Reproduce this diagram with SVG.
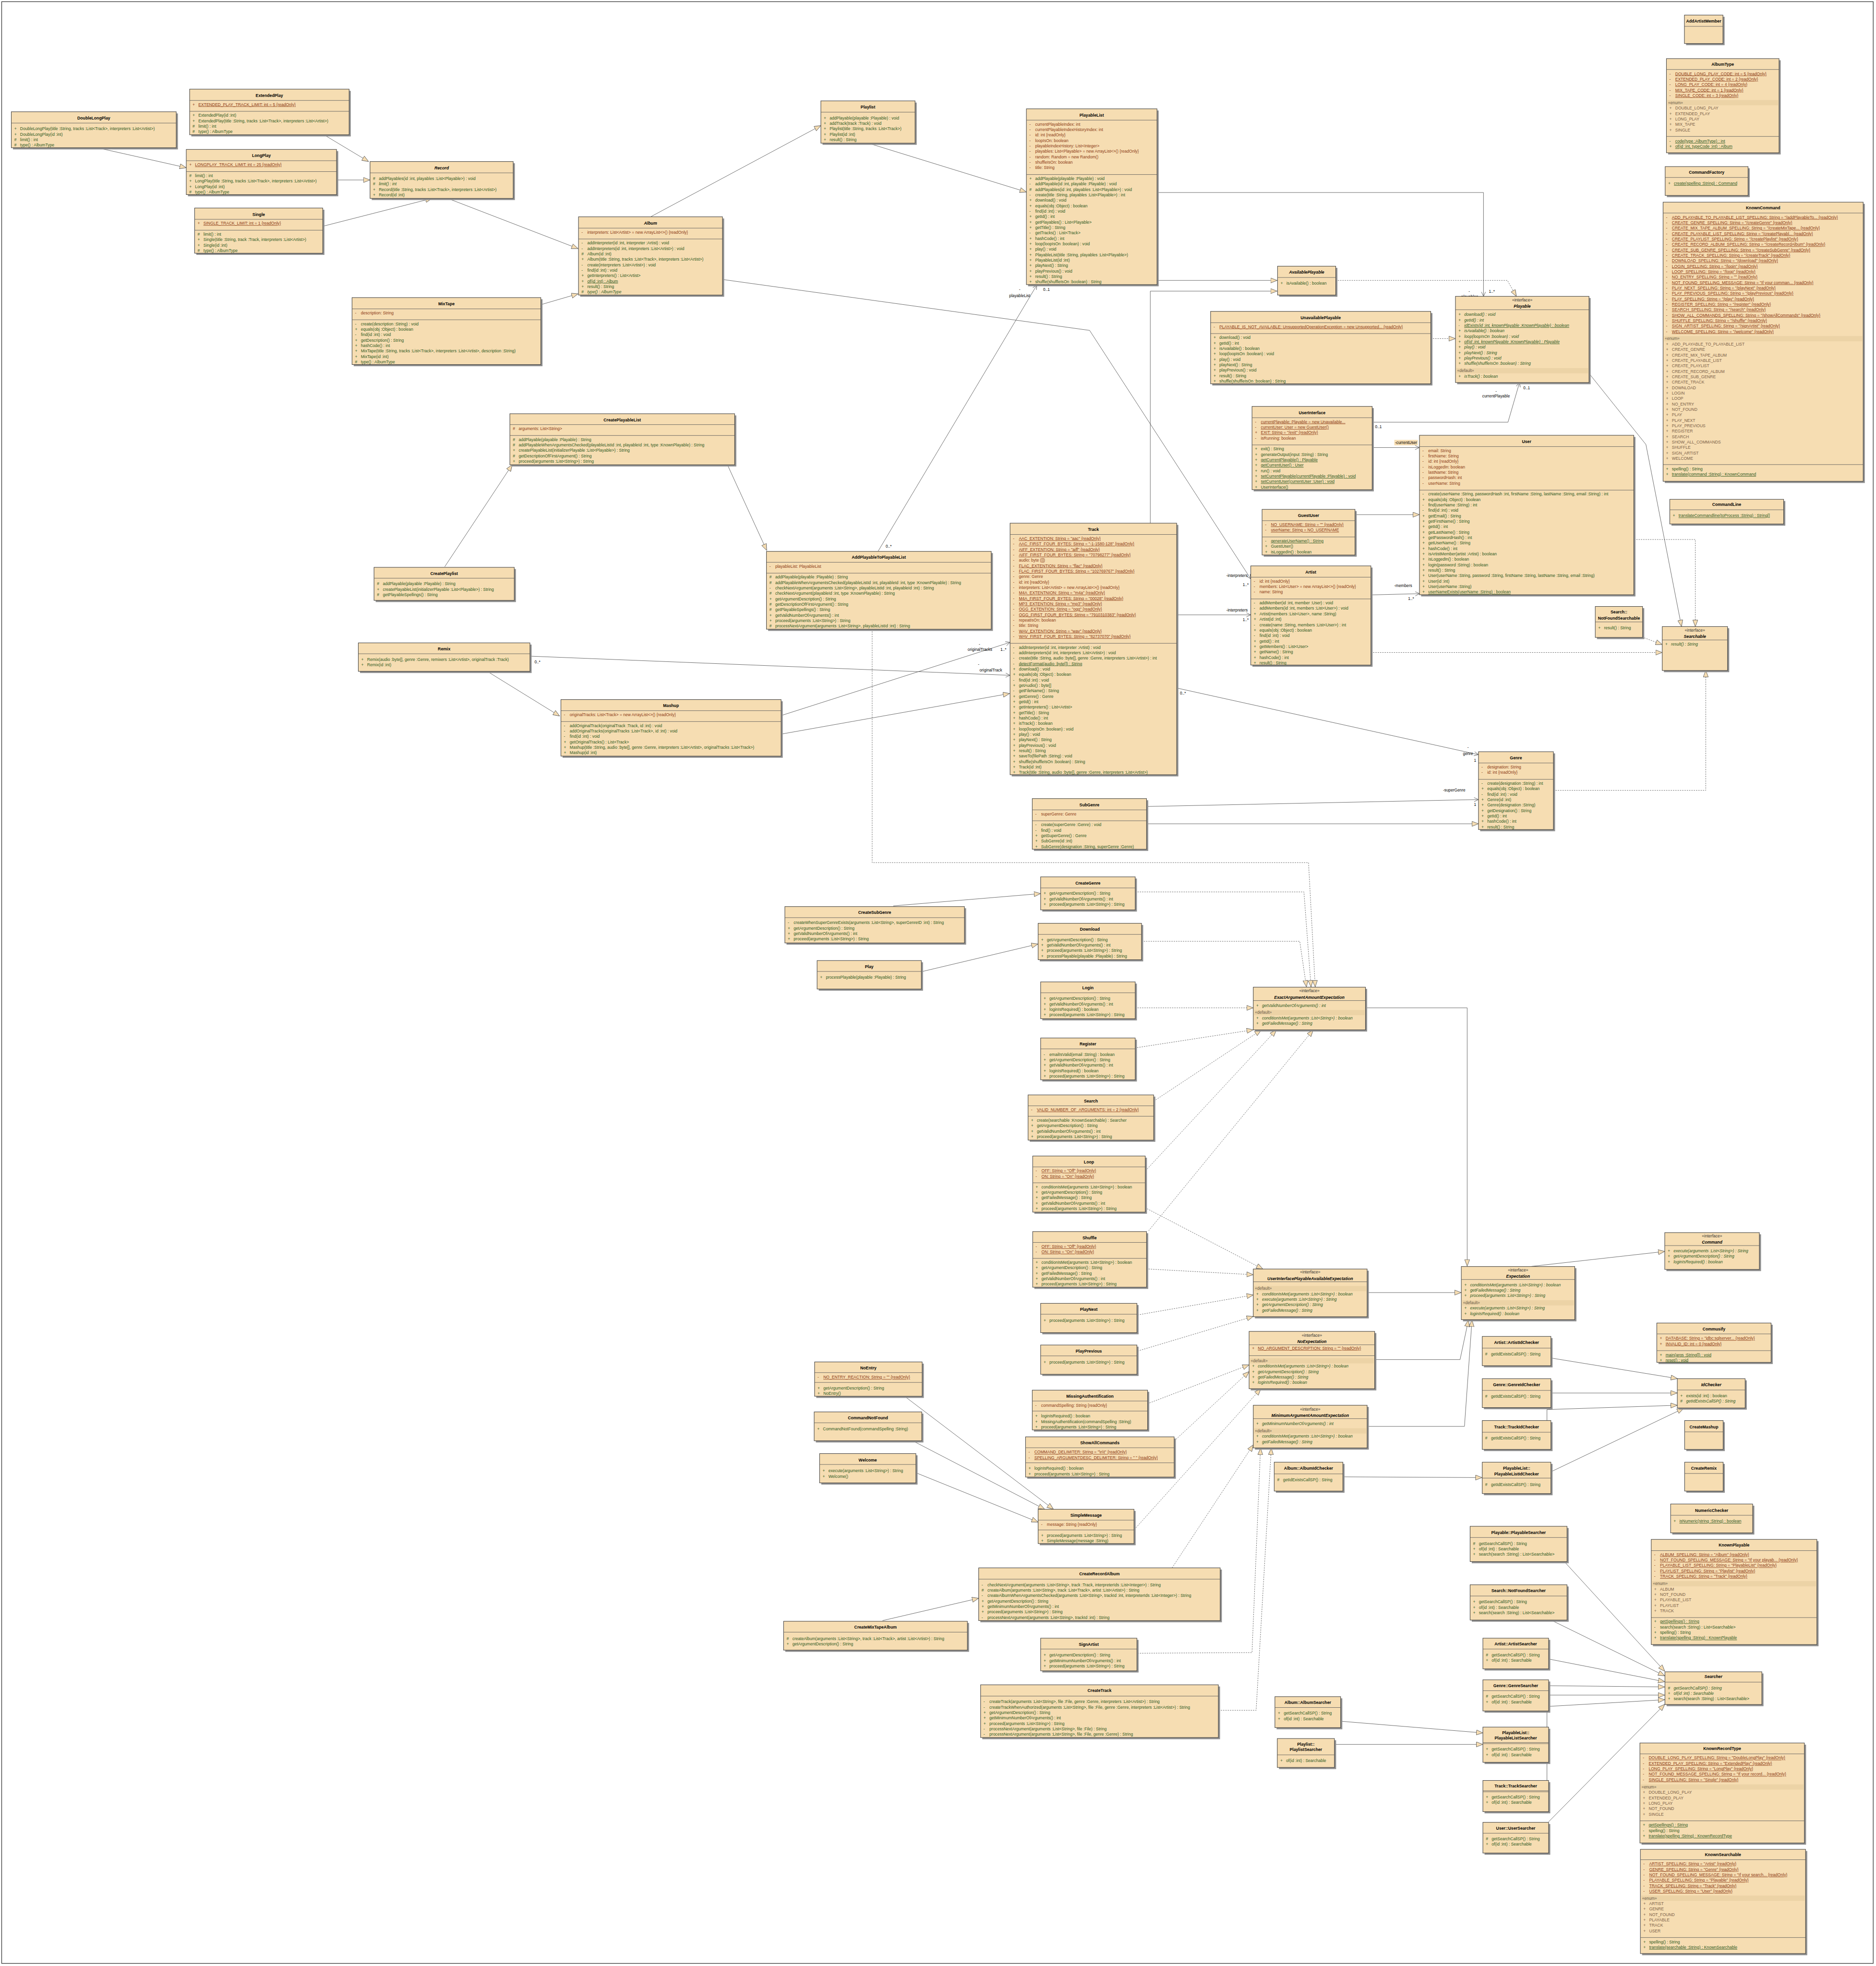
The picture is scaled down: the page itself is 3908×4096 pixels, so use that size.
<svg xmlns="http://www.w3.org/2000/svg" width="3908" height="4096" viewBox="0 0 3908 4096">
<style>
text{font-family:'Liberation Sans',Arial,sans-serif;font-size:9.8px}
.t{font-weight:bold;text-anchor:middle;fill:#000;font-size:10px}
.ti{font-weight:bold;font-style:italic;text-anchor:middle;fill:#000;font-size:10px}
.st{text-anchor:middle;fill:#333}
.a{fill:#8c3a14}
.m{fill:#2f5a1e}
.e{fill:#7a6048}
.dl{fill:#6a5a48}
.u{text-decoration:underline}
.i{font-style:italic}
.bx{fill:#F6DDB2;stroke:#3c3c3c;stroke-width:1.2}
.sh{fill:#8f8f8f}
.dv{stroke:#5a5a5a;stroke-width:1}
.bd{fill:#ECD3A6}
.cn{fill:none;stroke:#555;stroke-width:1}
.ds{stroke-dasharray:3 2.5}
.lb{fill:#000;font-size:9.5px;text-anchor:middle}
</style>
<defs>
<marker id="g" markerUnits="userSpaceOnUse" markerWidth="18" markerHeight="14" refX="16" refY="6.5" orient="auto"><path d="M0.5,0.5 L16,6.5 L0.5,12.5 Z" fill="#F6DDB2" stroke="#555"/></marker>
<marker id="o" markerUnits="userSpaceOnUse" markerWidth="14" markerHeight="12" refX="11" refY="5.5" orient="auto"><path d="M0.5,0.5 L11,5.5 L0.5,10.5" fill="none" stroke="#555"/></marker>
</defs>
<rect width="3908" height="4096" fill="#fff"/>
<g transform="scale(0.872)">
<rect x="4" y="4" width="4471" height="4687" fill="none" stroke="#333" stroke-width="1.5"/>
<g id="connectors">
<path class="cn" marker-end="url(#g)" d="M237,354 L445,400.7"/>
<path class="cn" marker-end="url(#g)" d="M773.5,321.7 L880.5,386"/>
<path class="cn" marker-end="url(#g)" d="M804,430 L884,430"/>
<path class="cn" marker-end="url(#g)" d="M771,540.7 L1032,474"/>
<path class="cn" marker-end="url(#g)" d="M1069.5,474 L1381,594"/>
<path class="cn" marker-end="url(#g)" d="M1291.8,728 L1381,702"/>
<path class="cn" marker-end="url(#g)" d="M1555,517.6 L1961,300"/>
<path class="cn" marker-end="url(#g)" d="M2073,341.7 L2452,458.8"/>
<path class="cn" marker-end="url(#g)" d="M2764,670 L3051,670"/>
<path class="cn" marker-end="url(#g)" d="M2748,1250 L2748,695.5 L3051,695.5"/>
<path class="cn" marker-end="url(#g)" d="M3237,1229.6 L3391,1229.6"/>
<path class="cn" marker-end="url(#g)" d="M1062.5,1354 L1223.6,1110.3"/>
<path class="cn" marker-end="url(#g)" d="M1737.7,1110.3 L1831.6,1315"/>
<path class="cn" marker-end="url(#g)" d="M1164,1604 L1337,1710.8"/>
<path class="cn" marker-end="url(#g)" d="M1866,1754 L2412,1657"/>
<path class="cn" marker-end="url(#g)" d="M2739.3,1968.3 L3532,1968.3"/>
<path class="cn" marker-end="url(#g)" d="M3796,892 L3932,1062 L4017,1497"/>
<path class="cn" marker-end="url(#g)" d="M2134,2164.4 L2486,2135"/>
<path class="cn" marker-end="url(#g)" d="M2204,2321 L2479.7,2255.5"/>
<path class="cn" marker-end="url(#g)" d="M3262,2408 L3505,2408 L3505,3025"/>
<path class="cn" marker-end="url(#g)" d="M3266,3088.3 L3490.7,3088.3"/>
<path class="cn" marker-end="url(#g)" d="M3283,3248.4 L3488,3248.4 L3508,3154"/>
<path class="cn" marker-end="url(#g)" d="M3266,3408 L3498.5,3408 L3516.5,3154"/>
<path class="cn" marker-end="url(#g)" d="M3658.6,3025.7 L3977,2990"/>
<path class="cn" marker-end="url(#g)" d="M3704,3244.4 L4007.3,3293.8"/>
<path class="cn" marker-end="url(#g)" d="M3704,3328.2 L4007,3328.2"/>
<path class="cn" marker-end="url(#g)" d="M3695.6,3427 L3695.6,3367.8 L4007,3357.5"/>
<path class="cn" marker-end="url(#g)" d="M3704,3517 L4022,3365"/>
<path class="cn" marker-end="url(#g)" d="M3207.4,3528.5 L3540.6,3530.3"/>
<path class="cn" marker-end="url(#g)" d="M2161,3336 L2516.7,3606"/>
<path class="cn" marker-end="url(#g)" d="M2183,3443.8 L2495.7,3606"/>
<path class="cn" marker-end="url(#g)" d="M2189.6,3519.4 L2480,3636.7"/>
<path class="cn" marker-end="url(#g)" d="M2108.3,3872 L2338,3818.6"/>
<path class="cn" marker-end="url(#g)" d="M3202.6,4112.4 L3542.5,4140.4"/>
<path class="cn" marker-end="url(#g)" d="M3188,4167.8 L3542.5,4167.8"/>
<path class="cn" marker-end="url(#g)" d="M3737,3731 L3977,3993"/>
<path class="cn" marker-end="url(#g)" d="M3705,3870.6 L3977,4004"/>
<path class="cn" marker-end="url(#g)" d="M3699.4,3963.7 L3977,4018"/>
<path class="cn" marker-end="url(#g)" d="M3695.6,4287 L3695.6,4027.5 L3977,4030.5"/>
<path class="cn" marker-end="url(#g)" d="M3699.4,4050 L3977,4050"/>
<path class="cn" marker-end="url(#g)" d="M3699.4,4077 L3977,4061"/>
<path class="cn" marker-end="url(#g)" d="M3699.4,4352.8 L3977,4072"/>
<path class="cn ds" marker-end="url(#g)" d="M3190.5,670 L3601,670 L3622.5,708"/>
<path class="cn ds" marker-end="url(#g)" d="M3417.7,809 L3477,809"/>
<path class="cn ds" marker-end="url(#g)" d="M3903.6,1289 L4050,1289 L4050,1497"/>
<path class="cn ds" marker-end="url(#g)" d="M3274.8,1559 L3971,1559"/>
<path class="cn ds" marker-end="url(#g)" d="M3923,1522 L3971,1540"/>
<path class="cn ds" marker-end="url(#g)" d="M3710.7,1888.4 L4075,1888.4 L4075,1602"/>
<path class="cn ds" marker-end="url(#g)" d="M2083.6,1503 L2083.6,2061 L3126,2061 L3142,2358"/>
<path class="cn ds" marker-end="url(#g)" d="M2712,2131 L3115,2131 L3132,2358"/>
<path class="cn ds" marker-end="url(#g)" d="M2727,2249 L3105,2249 L3121,2358"/>
<path class="cn ds" marker-end="url(#g)" d="M2712,2408 L2994,2408"/>
<path class="cn ds" marker-end="url(#g)" d="M2716.5,2503 L2994,2460.4"/>
<path class="cn ds" marker-end="url(#g)" d="M2761,2627.8 L3013,2461"/>
<path class="cn ds" marker-end="url(#g)" d="M2740.5,2793 L3049,2461"/>
<path class="cn ds" marker-end="url(#g)" d="M2744,2940.5 L3137,2461"/>
<path class="cn ds" marker-end="url(#g)" d="M2740.5,2888 L3017,3032"/>
<path class="cn ds" marker-end="url(#g)" d="M2744,3032 L2994,3045.6"/>
<path class="cn ds" marker-end="url(#g)" d="M2717.6,3141.7 L2994,3094"/>
<path class="cn ds" marker-end="url(#g)" d="M2717.6,3228 L2994,3145.3"/>
<path class="cn ds" marker-end="url(#g)" d="M2746,3352 L2984,3261"/>
<path class="cn ds" marker-end="url(#g)" d="M2809.5,3438.7 L2984,3277"/>
<path class="cn ds" marker-end="url(#g)" d="M2713.8,3650 L3012,3318"/>
<path class="cn ds" marker-end="url(#g)" d="M2800,3746 L2994,3452"/>
<path class="cn ds" marker-end="url(#g)" d="M2717.6,3950 L2991,3948.4 L3011.3,3460"/>
<path class="cn ds" marker-end="url(#g)" d="M2910.9,4086.3 L3000.8,4086.3 L3037,3460"/>
<path class="cn" marker-end="url(#o)" d="M2764,460 L3544,460 L3544,708"/>
<path class="cn" marker-end="url(#o)" d="M3277.8,1008.7 L3602.5,1008.7 L3630,914"/>
<path class="cn" marker-end="url(#o)" d="M3277.8,1069.3 L3391,1069.3"/>
<path class="cn" marker-end="url(#o)" d="M1726,667.7 L2603,789.4 L2988,1383"/>
<path class="cn" marker-end="url(#o)" d="M2811,1469 L2988,1469"/>
<path class="cn" marker-end="url(#o)" d="M3274.8,1421.4 L3391.5,1418.4"/>
<path class="cn" marker-end="url(#o)" d="M2811,1643.8 L3532,1803"/>
<path class="cn" marker-end="url(#o)" d="M2739.3,1926.9 L3532,1910.3"/>
<path class="cn" marker-end="url(#o)" d="M2097.5,1317.4 L2477,681"/>
<path class="cn" marker-end="url(#o)" d="M1266,1567.7 L2413,1613.5"/>
<path class="cn" marker-end="url(#o)" d="M1866,1709.7 L2413,1534.7"/>
<rect x="3487" y="703" width="48" height="12" fill="#fff"/>
<text class="lb" x="3510" y="699">-</text><text class="lb" x="3511" y="712.5">playables</text><text class="lb" x="3564" y="699">1..*</text>
<text class="lb" x="3574" y="937.5">-</text><text class="lb" x="3574" y="950">currentPlayable</text><text class="lb" x="3647" y="930">0..1</text><text class="lb" x="3293" y="1023.5">0..1</text>
<rect x="3331" y="1051" width="56" height="13" fill="#F6DDB2"/><text class="lb" x="3359" y="1061">-currentUser</text>
<text class="lb" x="2955" y="1378">-interpreters</text><text class="lb" x="2976" y="1400.5">1..*</text>
<text class="lb" x="2955" y="1461">-interpreters</text><text class="lb" x="2976" y="1484">1..*</text>
<text class="lb" x="3352" y="1402.5">-members</text><text class="lb" x="3371" y="1434">1..*</text>
<text class="lb" x="2826" y="1659.5">0..*</text><text class="lb" x="3507" y="1789.5">-</text><text class="lb" x="3507" y="1803.5">genre</text><text class="lb" x="3524" y="1819.5">1</text>
<text class="lb" x="3474" y="1890.5">-superGenre</text><text class="lb" x="3524" y="1925.5">1</text>
<text class="lb" x="2123" y="1309">0..*</text><text class="lb" x="2436" y="695.5">-</text><text class="lb" x="2436" y="709.5">playableList</text><text class="lb" x="2500" y="695.5">0..1</text>
<text class="lb" x="1284" y="1585">0..*</text><text class="lb" x="2338" y="1590.5">-</text><text class="lb" x="2367" y="1604.5">originalTrack</text>
<text class="lb" x="2340" y="1543">-</text><text class="lb" x="2341" y="1555.5">originalTracks</text><text class="lb" x="2397" y="1555.5">1..*</text>
</g>
<g id="DoubleLongPlay" transform="translate(27,267)"><rect class="sh" x="4" y="4" width="394" height="86"/><rect class="bx" width="394" height="86"/><text class="t" x="197" y="18.5">DoubleLongPlay</text><line class="dv" y1="27" x2="394" y2="27"/><text class="m" y="31"><tspan x="7" dy="13">+</tspan><tspan x="21">DoubleLongPlay(title :String, tracks :List&lt;Track&gt;, interpreters :List&lt;Artist&gt;)</tspan><tspan x="7" dy="13">+</tspan><tspan x="21">DoubleLongPlay(id :int)</tspan><tspan x="7" dy="13">#</tspan><tspan x="21">limit() : int</tspan><tspan x="7" dy="13">#</tspan><tspan x="21">type() : AlbumType</tspan></text></g>
<g id="ExtendedPlay" transform="translate(453,213)"><rect class="sh" x="4" y="4" width="381" height="109"/><rect class="bx" width="381" height="109"/><text class="t" x="190.5" y="18.5">ExtendedPlay</text><line class="dv" y1="27" x2="381" y2="27"/><text class="a" y="27"><tspan x="7" dy="13">+</tspan><tspan x="21" class="u">EXTENDED_PLAY_TRACK_LIMIT:  int = 5 {readOnly}</tspan></text><line class="dv" y1="53" x2="381" y2="53"/><text class="m" y="53"><tspan x="7" dy="13">+</tspan><tspan x="21">ExtendedPlay(id :int)</tspan><tspan x="7" dy="13">+</tspan><tspan x="21">ExtendedPlay(title :String, tracks :List&lt;Track&gt;, interpreters :List&lt;Artist&gt;)</tspan><tspan x="7" dy="13">#</tspan><tspan x="21">limit() : int</tspan><tspan x="7" dy="13">#</tspan><tspan x="21">type() : AlbumType</tspan></text></g>
<g id="LongPlay" transform="translate(445,357)"><rect class="sh" x="4" y="4" width="359" height="108"/><rect class="bx" width="359" height="108"/><text class="t" x="179.5" y="18.5">LongPlay</text><line class="dv" y1="27" x2="359" y2="27"/><text class="a" y="27"><tspan x="7" dy="13">+</tspan><tspan x="21" class="u">LONGPLAY_TRACK_LIMIT:  int = 25 {readOnly}</tspan></text><line class="dv" y1="53" x2="359" y2="53"/><text class="m" y="53"><tspan x="7" dy="13">#</tspan><tspan x="21">limit() : int</tspan><tspan x="7" dy="13">+</tspan><tspan x="21">LongPlay(title :String, tracks :List&lt;Track&gt;, interpreters :List&lt;Artist&gt;)</tspan><tspan x="7" dy="13">+</tspan><tspan x="21">LongPlay(id :int)</tspan><tspan x="7" dy="13">#</tspan><tspan x="21">type() : AlbumType</tspan></text></g>
<g id="Record" transform="translate(884,386)"><rect class="sh" x="4" y="4" width="342" height="88"/><rect class="bx" width="342" height="88"/><text class="ti" x="171" y="18.5">Record</text><line class="dv" y1="27" x2="342" y2="27"/><text class="m" y="31"><tspan x="7" dy="13">#</tspan><tspan x="21">addPlayables(id :int, playables :List&lt;Playable&gt;) : void</tspan><tspan x="7" dy="13">#</tspan><tspan x="21" class="i">limit() : int</tspan><tspan x="7" dy="13">+</tspan><tspan x="21">Record(title :String, tracks :List&lt;Track&gt;, interpreters :List&lt;Artist&gt;)</tspan><tspan x="7" dy="13">+</tspan><tspan x="21">Record(id :int)</tspan></text></g>
<g id="Single" transform="translate(465,497)"><rect class="sh" x="4" y="4" width="306" height="108"/><rect class="bx" width="306" height="108"/><text class="t" x="153" y="18.5">Single</text><line class="dv" y1="27" x2="306" y2="27"/><text class="a" y="27"><tspan x="7" dy="13">+</tspan><tspan x="21" class="u">SINGLE_TRACK_LIMIT:  int = 1 {readOnly}</tspan></text><line class="dv" y1="53" x2="306" y2="53"/><text class="m" y="53"><tspan x="7" dy="13">#</tspan><tspan x="21">limit() : int</tspan><tspan x="7" dy="13">+</tspan><tspan x="21">Single(title :String, track :Track, interpreters :List&lt;Artist&gt;)</tspan><tspan x="7" dy="13">+</tspan><tspan x="21">Single(id :int)</tspan><tspan x="7" dy="13">#</tspan><tspan x="21">type() : AlbumType</tspan></text></g>
<g id="MixTape" transform="translate(841,711)"><rect class="sh" x="4" y="4" width="451" height="160"/><rect class="bx" width="451" height="160"/><text class="t" x="225.5" y="18.5">MixTape</text><line class="dv" y1="27" x2="451" y2="27"/><text class="a" y="27"><tspan x="7" dy="13">-</tspan><tspan x="21">description:  String</tspan></text><line class="dv" y1="53" x2="451" y2="53"/><text class="m" y="53"><tspan x="7" dy="13">-</tspan><tspan x="21">create(description :String) : void</tspan><tspan x="7" dy="13">+</tspan><tspan x="21">equals(obj :Object) : boolean</tspan><tspan x="7" dy="13">-</tspan><tspan x="21">find(id :int) : void</tspan><tspan x="7" dy="13">+</tspan><tspan x="21">getDescription() : String</tspan><tspan x="7" dy="13">+</tspan><tspan x="21">hashCode() : int</tspan><tspan x="7" dy="13">+</tspan><tspan x="21">MixTape(title :String, tracks :List&lt;Track&gt;, interpreters :List&lt;Artist&gt;, description :String)</tspan><tspan x="7" dy="13">+</tspan><tspan x="21">MixTape(id :int)</tspan><tspan x="7" dy="13">#</tspan><tspan x="21">type() : AlbumType</tspan></text></g>
<g id="Album" transform="translate(1382,518)"><rect class="sh" x="4" y="4" width="344" height="187"/><rect class="bx" width="344" height="187"/><text class="ti" x="172" y="18.5">Album</text><line class="dv" y1="27" x2="344" y2="27"/><text class="a" y="27"><tspan x="7" dy="13">-</tspan><tspan x="21">interpreters:  List&lt;Artist&gt; = new ArrayList&lt;&gt;() {readOnly}</tspan></text><line class="dv" y1="53" x2="344" y2="53"/><text class="m" y="53"><tspan x="7" dy="13">-</tspan><tspan x="21">addInterpreter(id :int, interpreter :Artist) : void</tspan><tspan x="7" dy="13">-</tspan><tspan x="21">addInterpreters(id :int, interpreters :List&lt;Artist&gt;) : void</tspan><tspan x="7" dy="13">#</tspan><tspan x="21">Album(id :int)</tspan><tspan x="7" dy="13">+</tspan><tspan x="21">Album(title :String, tracks :List&lt;Track&gt;, interpreters :List&lt;Artist&gt;)</tspan><tspan x="7" dy="13">-</tspan><tspan x="21">create(interpreters :List&lt;Artist&gt;) : void</tspan><tspan x="7" dy="13">-</tspan><tspan x="21">find(id :int) : void</tspan><tspan x="7" dy="13">+</tspan><tspan x="21">getInterpreters() : List&lt;Artist&gt;</tspan><tspan x="7" dy="13">+</tspan><tspan x="21" class="u">of(id :int) : Album</tspan><tspan x="7" dy="13">+</tspan><tspan x="21">result() : String</tspan><tspan x="7" dy="13">#</tspan><tspan x="21" class="i">type() : AlbumType</tspan></text></g>
<g id="Playlist" transform="translate(1961,241)"><rect class="sh" x="4" y="4" width="225" height="101"/><rect class="bx" width="225" height="101"/><text class="t" x="112.5" y="18.5">Playlist</text><line class="dv" y1="27" x2="225" y2="27"/><text class="m" y="31"><tspan x="7" dy="13">+</tspan><tspan x="21">addPlayable(playable :Playable) : void</tspan><tspan x="7" dy="13">+</tspan><tspan x="21">addTrack(track :Track) : void</tspan><tspan x="7" dy="13">+</tspan><tspan x="21">Playlist(title :String, tracks :List&lt;Track&gt;)</tspan><tspan x="7" dy="13">+</tspan><tspan x="21">Playlist(id :int)</tspan><tspan x="7" dy="13">+</tspan><tspan x="21">result() : String</tspan></text></g>
<g id="PlayableList" transform="translate(2452,260)"><rect class="sh" x="4" y="4" width="312" height="420"/><rect class="bx" width="312" height="420"/><text class="t" x="156" y="18.5">PlayableList</text><line class="dv" y1="27" x2="312" y2="27"/><text class="a" y="27"><tspan x="7" dy="13">-</tspan><tspan x="21">currentPlayableIndex:  int</tspan><tspan x="7" dy="13">-</tspan><tspan x="21">currentPlayableIndexHistoryIndex:  int</tspan><tspan x="7" dy="13">-</tspan><tspan x="21">id:  int {readOnly}</tspan><tspan x="7" dy="13">-</tspan><tspan x="21">loopIsOn:  boolean</tspan><tspan x="7" dy="13">-</tspan><tspan x="21">playableIndexHistory:  List&lt;Integer&gt;</tspan><tspan x="7" dy="13">-</tspan><tspan x="21">playables:  List&lt;Playable&gt; = new ArrayList&lt;&gt;() {readOnly}</tspan><tspan x="7" dy="13">-</tspan><tspan x="21">random:  Random = new Random()</tspan><tspan x="7" dy="13">-</tspan><tspan x="21">shuffleIsOn:  boolean</tspan><tspan x="7" dy="13">-</tspan><tspan x="21">title:  String</tspan></text><line class="dv" y1="157" x2="312" y2="157"/><text class="m" y="157"><tspan x="7" dy="13">+</tspan><tspan x="21">addPlayable(playable :Playable) : void</tspan><tspan x="7" dy="13">-</tspan><tspan x="21">addPlayable(id :int, playable :Playable) : void</tspan><tspan x="7" dy="13">#</tspan><tspan x="21">addPlayables(id :int, playables :List&lt;Playable&gt;) : void</tspan><tspan x="7" dy="13">-</tspan><tspan x="21">create(title :String, playables :List&lt;Playable&gt;) : int</tspan><tspan x="7" dy="13">+</tspan><tspan x="21">download() : void</tspan><tspan x="7" dy="13">+</tspan><tspan x="21">equals(obj :Object) : boolean</tspan><tspan x="7" dy="13">-</tspan><tspan x="21">find(id :int) : void</tspan><tspan x="7" dy="13">+</tspan><tspan x="21">getId() : int</tspan><tspan x="7" dy="13">+</tspan><tspan x="21">getPlayables() : List&lt;Playable&gt;</tspan><tspan x="7" dy="13">+</tspan><tspan x="21">getTitle() : String</tspan><tspan x="7" dy="13">-</tspan><tspan x="21">getTracks() : List&lt;Track&gt;</tspan><tspan x="7" dy="13">+</tspan><tspan x="21">hashCode() : int</tspan><tspan x="7" dy="13">+</tspan><tspan x="21">loop(loopIsOn :boolean) : void</tspan><tspan x="7" dy="13">+</tspan><tspan x="21">play() : void</tspan><tspan x="7" dy="13">+</tspan><tspan x="21">PlayableList(title :String, playables :List&lt;Playable&gt;)</tspan><tspan x="7" dy="13">+</tspan><tspan x="21">PlayableList(id :int)</tspan><tspan x="7" dy="13">+</tspan><tspan x="21">playNext() : String</tspan><tspan x="7" dy="13">+</tspan><tspan x="21">playPrevious() : void</tspan><tspan x="7" dy="13">+</tspan><tspan x="21">result() : String</tspan><tspan x="7" dy="13">+</tspan><tspan x="21">shuffle(shuffleIsOn :boolean) : String</tspan></text></g>
<g id="AvailablePlayable" transform="translate(3052,636)"><rect class="sh" x="4" y="4" width="139" height="69"/><rect class="bx" width="139" height="69"/><text class="ti" x="69.5" y="18">AvailablePlayable</text><line class="dv" y1="27" x2="139" y2="27"/><text class="m" y="31"><tspan x="7" dy="13">+</tspan><tspan x="21">isAvailable() : boolean</tspan></text></g>
<g id="UnavailablePlayable" transform="translate(2892,744)"><rect class="sh" x="4" y="4" width="526" height="173"/><rect class="bx" width="526" height="173"/><text class="t" x="263" y="18.5">UnavailablePlayable</text><line class="dv" y1="27" x2="526" y2="27"/><text class="a" y="27"><tspan x="7" dy="13">-</tspan><tspan x="21" class="u">PLAYABLE_IS_NOT_AVAILABLE:  UnsupportedOperationException = new Unsupported... {readOnly}</tspan></text><line class="dv" y1="53" x2="526" y2="53"/><text class="m" y="53"><tspan x="7" dy="13">+</tspan><tspan x="21">download() : void</tspan><tspan x="7" dy="13">+</tspan><tspan x="21">getId() : int</tspan><tspan x="7" dy="13">+</tspan><tspan x="21">isAvailable() : boolean</tspan><tspan x="7" dy="13">+</tspan><tspan x="21">loop(loopIsOn :boolean) : void</tspan><tspan x="7" dy="13">+</tspan><tspan x="21">play() : void</tspan><tspan x="7" dy="13">+</tspan><tspan x="21">playNext() : String</tspan><tspan x="7" dy="13">+</tspan><tspan x="21">playPrevious() : void</tspan><tspan x="7" dy="13">+</tspan><tspan x="21">result() : String</tspan><tspan x="7" dy="13">+</tspan><tspan x="21">shuffle(shuffleIsOn :boolean) : String</tspan></text></g>
<g id="Playable" transform="translate(3477,708)"><rect class="sh" x="4" y="4" width="319" height="206"/><rect class="bx" width="319" height="206"/><text class="st" x="159.5" y="12">«interface»</text><text class="ti" x="159.5" y="27.5">Playable</text><line class="dv" y1="32" x2="319" y2="32"/><rect class="bd" x="2" y="171.5" width="315" height="12.5"/><text class="m i" y="34"><tspan x="7" dy="13">+</tspan><tspan x="21">download() : void</tspan><tspan x="7" dy="13">+</tspan><tspan x="21">getId() : int</tspan><tspan x="7" dy="13">-</tspan><tspan x="21" class="u">idExists(id :int, knownPlayable :KnownPlayable) : boolean</tspan><tspan x="7" dy="13">+</tspan><tspan x="21">isAvailable() : boolean</tspan><tspan x="7" dy="13">+</tspan><tspan x="21">loop(loopIsOn :boolean) : void</tspan><tspan x="7" dy="13">+</tspan><tspan x="21" class="u">of(id :int, knownPlayable :KnownPlayable) : Playable</tspan><tspan x="7" dy="13">+</tspan><tspan x="21">play() : void</tspan><tspan x="7" dy="13">+</tspan><tspan x="21">playNext() : String</tspan><tspan x="7" dy="13">+</tspan><tspan x="21">playPrevious() : void</tspan><tspan x="7" dy="13">+</tspan><tspan x="21">shuffle(shuffleIsOn :boolean) : String</tspan><tspan x="4" dy="17" class="dl" font-style="normal">«default»</tspan><tspan x="7" dy="13">+</tspan><tspan x="21">isTrack() : boolean</tspan></text></g>
<g id="UserInterface" transform="translate(2991,971)"><rect class="sh" x="4" y="4" width="287" height="199"/><rect class="bx" width="287" height="199"/><text class="t" x="143.5" y="18.5">UserInterface</text><line class="dv" y1="27" x2="287" y2="27"/><text class="a" y="27"><tspan x="7" dy="13">-</tspan><tspan x="21" class="u">currentPlayable:  Playable = new Unavailable...</tspan><tspan x="7" dy="13">-</tspan><tspan x="21" class="u">currentUser:  User = new GuestUser()</tspan><tspan x="7" dy="13">+</tspan><tspan x="21" class="u">EXIT:  String = "/exit" {readOnly}</tspan><tspan x="7" dy="13">-</tspan><tspan x="21">isRunning:  boolean</tspan></text><line class="dv" y1="92" x2="287" y2="92"/><text class="m" y="92"><tspan x="7" dy="13">+</tspan><tspan x="21">exit() : String</tspan><tspan x="7" dy="13">+</tspan><tspan x="21">generateOutput(input :String) : String</tspan><tspan x="7" dy="13">+</tspan><tspan x="21" class="u">getCurrentPlayable() : Playable</tspan><tspan x="7" dy="13">+</tspan><tspan x="21" class="u">getCurrentUser() : User</tspan><tspan x="7" dy="13">+</tspan><tspan x="21">run() : void</tspan><tspan x="7" dy="13">+</tspan><tspan x="21" class="u">setCurrentPlayable(currentPlayable :Playable) : void</tspan><tspan x="7" dy="13">+</tspan><tspan x="21" class="u">setCurrentUser(currentUser :User) : void</tspan><tspan x="7" dy="13">+</tspan><tspan x="21">UserInterface()</tspan></text></g>
<g id="User" transform="translate(3391,1040)"><rect class="sh" x="4" y="4" width="512" height="381"/><rect class="bx" width="512" height="381"/><text class="t" x="256" y="18.5">User</text><line class="dv" y1="27" x2="512" y2="27"/><text class="a" y="27"><tspan x="7" dy="13">-</tspan><tspan x="21">email:  String</tspan><tspan x="7" dy="13">-</tspan><tspan x="21">firstName:  String</tspan><tspan x="7" dy="13">-</tspan><tspan x="21">id:  int {readOnly}</tspan><tspan x="7" dy="13">-</tspan><tspan x="21">isLoggedIn:  boolean</tspan><tspan x="7" dy="13">-</tspan><tspan x="21">lastName:  String</tspan><tspan x="7" dy="13">-</tspan><tspan x="21">passwordHash:  int</tspan><tspan x="7" dy="13">-</tspan><tspan x="21">userName:  String</tspan></text><line class="dv" y1="131" x2="512" y2="131"/><text class="m" y="131"><tspan x="7" dy="13">-</tspan><tspan x="21">create(userName :String, passwordHash :int, firstName :String, lastName :String, email :String) : int</tspan><tspan x="7" dy="13">+</tspan><tspan x="21">equals(obj :Object) : boolean</tspan><tspan x="7" dy="13">-</tspan><tspan x="21">find(userName :String) : int</tspan><tspan x="7" dy="13">-</tspan><tspan x="21">find(id :int) : void</tspan><tspan x="7" dy="13">+</tspan><tspan x="21">getEmail() : String</tspan><tspan x="7" dy="13">+</tspan><tspan x="21">getFirstName() : String</tspan><tspan x="7" dy="13">+</tspan><tspan x="21">getId() : int</tspan><tspan x="7" dy="13">+</tspan><tspan x="21">getLastName() : String</tspan><tspan x="7" dy="13">+</tspan><tspan x="21">getPasswordHash() : int</tspan><tspan x="7" dy="13">+</tspan><tspan x="21">getUserName() : String</tspan><tspan x="7" dy="13">+</tspan><tspan x="21">hashCode() : int</tspan><tspan x="7" dy="13">+</tspan><tspan x="21">isArtistMember(artist :Artist) : boolean</tspan><tspan x="7" dy="13">+</tspan><tspan x="21">isLoggedIn() : boolean</tspan><tspan x="7" dy="13">+</tspan><tspan x="21">login(password :String) : boolean</tspan><tspan x="7" dy="13">+</tspan><tspan x="21">result() : String</tspan><tspan x="7" dy="13">+</tspan><tspan x="21">User(userName :String, password :String, firstName :String, lastName :String, email :String)</tspan><tspan x="7" dy="13">+</tspan><tspan x="21">User(id :int)</tspan><tspan x="7" dy="13">+</tspan><tspan x="21">User(userName :String)</tspan><tspan x="7" dy="13">+</tspan><tspan x="21" class="u">userNameExists(userName :String) : boolean</tspan></text></g>
<g id="GuestUser" transform="translate(3015,1217)"><rect class="sh" x="4" y="4" width="222" height="109"/><rect class="bx" width="222" height="109"/><text class="t" x="111" y="18.5">GuestUser</text><line class="dv" y1="27" x2="222" y2="27"/><text class="a" y="27"><tspan x="7" dy="13">-</tspan><tspan x="21" class="u">NO_USERNAME:  String = "" {readOnly}</tspan><tspan x="7" dy="13">-</tspan><tspan x="21" class="u">userName:  String = NO_USERNAME</tspan></text><line class="dv" y1="66" x2="222" y2="66"/><text class="m" y="66"><tspan x="7" dy="13">-</tspan><tspan x="21" class="u">generateUserName() : String</tspan><tspan x="7" dy="13">+</tspan><tspan x="21">GuestUser()</tspan><tspan x="7" dy="13">+</tspan><tspan x="21">isLoggedIn() : boolean</tspan></text></g>
<g id="Artist" transform="translate(2988,1352)"><rect class="sh" x="4" y="4" width="287" height="237"/><rect class="bx" width="287" height="237"/><text class="t" x="143.5" y="18.5">Artist</text><line class="dv" y1="27" x2="287" y2="27"/><text class="a" y="27"><tspan x="7" dy="13">-</tspan><tspan x="21">id:  int {readOnly}</tspan><tspan x="7" dy="13">-</tspan><tspan x="21">members:  List&lt;User&gt; = new ArrayList&lt;&gt;() {readOnly}</tspan><tspan x="7" dy="13">-</tspan><tspan x="21">name:  String</tspan></text><line class="dv" y1="79" x2="287" y2="79"/><text class="m" y="79"><tspan x="7" dy="13">-</tspan><tspan x="21">addMember(id :int, member :User) : void</tspan><tspan x="7" dy="13">-</tspan><tspan x="21">addMembers(id :int, members :List&lt;User&gt;) : void</tspan><tspan x="7" dy="13">+</tspan><tspan x="21">Artist(members :List&lt;User&gt;, name :String)</tspan><tspan x="7" dy="13">+</tspan><tspan x="21">Artist(id :int)</tspan><tspan x="7" dy="13">-</tspan><tspan x="21">create(name :String, members :List&lt;User&gt;) : int</tspan><tspan x="7" dy="13">+</tspan><tspan x="21">equals(obj :Object) : boolean</tspan><tspan x="7" dy="13">-</tspan><tspan x="21">find(id :int) : void</tspan><tspan x="7" dy="13">+</tspan><tspan x="21">getId() : int</tspan><tspan x="7" dy="13">+</tspan><tspan x="21">getMembers() : List&lt;User&gt;</tspan><tspan x="7" dy="13">+</tspan><tspan x="21">getName() : String</tspan><tspan x="7" dy="13">+</tspan><tspan x="21">hashCode() : int</tspan><tspan x="7" dy="13">+</tspan><tspan x="21">result() : String</tspan></text></g>
<g id="Track" transform="translate(2413,1250)"><rect class="sh" x="4" y="4" width="398" height="601"/><rect class="bx" width="398" height="601"/><text class="t" x="199" y="18.5">Track</text><line class="dv" y1="27" x2="398" y2="27"/><text class="a" y="27"><tspan x="7" dy="13">-</tspan><tspan x="21" class="u">AAC_EXTENTION:  String = "aac" {readOnly}</tspan><tspan x="7" dy="13">-</tspan><tspan x="21" class="u">AAC_FIRST_FOUR_BYTES:  String = "-1-1580-128" {readOnly}</tspan><tspan x="7" dy="13">-</tspan><tspan x="21" class="u">AIFF_EXTENTION:  String = "aiff" {readOnly}</tspan><tspan x="7" dy="13">-</tspan><tspan x="21" class="u">AIFF_FIRST_FOUR_BYTES:  String = "70798277" {readOnly}</tspan><tspan x="7" dy="13">-</tspan><tspan x="21">audio:  byte ([])</tspan><tspan x="7" dy="13">-</tspan><tspan x="21" class="u">FLAC_EXTENTION:  String = "flac" {readOnly}</tspan><tspan x="7" dy="13">-</tspan><tspan x="21" class="u">FLAC_FIRST_FOUR_BYTES:  String = "102769767" {readOnly}</tspan><tspan x="7" dy="13">-</tspan><tspan x="21">genre:  Genre</tspan><tspan x="7" dy="13">-</tspan><tspan x="21">id:  int {readOnly}</tspan><tspan x="7" dy="13">-</tspan><tspan x="21">interpreters:  List&lt;Artist&gt; = new ArrayList&lt;&gt;() {readOnly}</tspan><tspan x="7" dy="13">-</tspan><tspan x="21" class="u">M4A_EXTENTNION:  String = "m4a" {readOnly}</tspan><tspan x="7" dy="13">-</tspan><tspan x="21" class="u">M4A_FIRST_FOUR_BYTES:  String = "00028" {readOnly}</tspan><tspan x="7" dy="13">-</tspan><tspan x="21" class="u">MP3_EXTENTION:  String = "mp3" {readOnly}</tspan><tspan x="7" dy="13">-</tspan><tspan x="21" class="u">OGG_EXTENTION:  String = "ogg" {readOnly}</tspan><tspan x="7" dy="13">-</tspan><tspan x="21" class="u">OGG_FIRST_FOUR_BYTES:  String = "7910310383" {readOnly}</tspan><tspan x="7" dy="13">-</tspan><tspan x="21">repeatIsOn:  boolean</tspan><tspan x="7" dy="13">-</tspan><tspan x="21">title:  String</tspan><tspan x="7" dy="13">-</tspan><tspan x="21" class="u">WAV_EXTENTION:  String = "wav" {readOnly}</tspan><tspan x="7" dy="13">-</tspan><tspan x="21" class="u">WAV_FIRST_FOUR_BYTES:  String = "82737070" {readOnly}</tspan></text><line class="dv" y1="287" x2="398" y2="287"/><text class="m" y="287"><tspan x="7" dy="13">-</tspan><tspan x="21">addInterpreter(id :int, interpreter :Artist) : void</tspan><tspan x="7" dy="13">-</tspan><tspan x="21">addInterpreters(id :int, interpreters :List&lt;Artist&gt;) : void</tspan><tspan x="7" dy="13">-</tspan><tspan x="21">create(title :String, audio :byte[], genre :Genre, interpreters :List&lt;Artist&gt;) : int</tspan><tspan x="7" dy="13">-</tspan><tspan x="21" class="u">detectFormat(audio :byte[]) : String</tspan><tspan x="7" dy="13">+</tspan><tspan x="21">download() : void</tspan><tspan x="7" dy="13">+</tspan><tspan x="21">equals(obj :Object) : boolean</tspan><tspan x="7" dy="13">-</tspan><tspan x="21">find(id :int) : void</tspan><tspan x="7" dy="13">+</tspan><tspan x="21">getAudio() : byte[]</tspan><tspan x="7" dy="13">-</tspan><tspan x="21">getFileName() : String</tspan><tspan x="7" dy="13">+</tspan><tspan x="21">getGenre() : Genre</tspan><tspan x="7" dy="13">+</tspan><tspan x="21">getId() : int</tspan><tspan x="7" dy="13">+</tspan><tspan x="21">getInterpreters() : List&lt;Artist&gt;</tspan><tspan x="7" dy="13">+</tspan><tspan x="21">getTitle() : String</tspan><tspan x="7" dy="13">+</tspan><tspan x="21">hashCode() : int</tspan><tspan x="7" dy="13">+</tspan><tspan x="21">isTrack() : boolean</tspan><tspan x="7" dy="13">+</tspan><tspan x="21">loop(loopIsOn :boolean) : void</tspan><tspan x="7" dy="13">+</tspan><tspan x="21">play() : void</tspan><tspan x="7" dy="13">+</tspan><tspan x="21">playNext() : String</tspan><tspan x="7" dy="13">+</tspan><tspan x="21">playPrevious() : void</tspan><tspan x="7" dy="13">+</tspan><tspan x="21">result() : String</tspan><tspan x="7" dy="13">+</tspan><tspan x="21">saveTo(filePath :String) : void</tspan><tspan x="7" dy="13">+</tspan><tspan x="21">shuffle(shuffleIsOn :boolean) : String</tspan><tspan x="7" dy="13">+</tspan><tspan x="21">Track(id :int)</tspan><tspan x="7" dy="13">+</tspan><tspan x="21">Track(title :String, audio :byte[], genre :Genre, interpreters :List&lt;Artist&gt;)</tspan></text></g>
<g id="NotFoundSearchable" transform="translate(3811,1449)"><rect class="sh" x="4" y="4" width="113" height="74"/><rect class="bx" width="113" height="74"/><text class="t" x="56.5" y="17">Search::</text><text class="t" x="56.5" y="31">NotFoundSearchable</text><line class="dv" y1="37" x2="113" y2="37"/><text class="m" y="42"><tspan x="7" dy="13">+</tspan><tspan x="21">result() : String</tspan></text></g>
<g id="Searchable" transform="translate(3971,1497)"><rect class="sh" x="4" y="4" width="156" height="105"/><rect class="bx" width="156" height="105"/><text class="st" x="78" y="12">«interface»</text><text class="ti" x="78" y="27.5">Searchable</text><line class="dv" y1="32" x2="156" y2="32"/><text class="m i" y="32"><tspan x="7" dy="13">+</tspan><tspan x="21">result() : String</tspan></text></g>
<g id="Genre" transform="translate(3532,1796)"><rect class="sh" x="4" y="4" width="179" height="186"/><rect class="bx" width="179" height="186"/><text class="t" x="89.5" y="18.5">Genre</text><line class="dv" y1="27" x2="179" y2="27"/><text class="a" y="27"><tspan x="7" dy="13">-</tspan><tspan x="21">designation:  String</tspan><tspan x="7" dy="13">-</tspan><tspan x="21">id:  int {readOnly}</tspan></text><line class="dv" y1="66" x2="179" y2="66"/><text class="m" y="66"><tspan x="7" dy="13">-</tspan><tspan x="21">create(designation :String) : int</tspan><tspan x="7" dy="13">+</tspan><tspan x="21">equals(obj :Object) : boolean</tspan><tspan x="7" dy="13">-</tspan><tspan x="21">find(id :int) : void</tspan><tspan x="7" dy="13">+</tspan><tspan x="21">Genre(id :int)</tspan><tspan x="7" dy="13">+</tspan><tspan x="21">Genre(designation :String)</tspan><tspan x="7" dy="13">+</tspan><tspan x="21">getDesignation() : String</tspan><tspan x="7" dy="13">+</tspan><tspan x="21">getId() : int</tspan><tspan x="7" dy="13">+</tspan><tspan x="21">hashCode() : int</tspan><tspan x="7" dy="13">+</tspan><tspan x="21">result() : String</tspan></text></g>
<g id="SubGenre" transform="translate(2466,1908)"><rect class="sh" x="4" y="4" width="273" height="121"/><rect class="bx" width="273" height="121"/><text class="t" x="136.5" y="18.5">SubGenre</text><line class="dv" y1="27" x2="273" y2="27"/><text class="a" y="27"><tspan x="7" dy="13">-</tspan><tspan x="21">superGenre:  Genre</tspan></text><line class="dv" y1="53" x2="273" y2="53"/><text class="m" y="53"><tspan x="7" dy="13">-</tspan><tspan x="21">create(superGenre :Genre) : void</tspan><tspan x="7" dy="13">-</tspan><tspan x="21">find() : void</tspan><tspan x="7" dy="13">+</tspan><tspan x="21">getSuperGenre() : Genre</tspan><tspan x="7" dy="13">+</tspan><tspan x="21">SubGenre(id :int)</tspan><tspan x="7" dy="13">+</tspan><tspan x="21">SubGenre(designation :String, superGenre :Genre)</tspan></text></g>
<g id="AddArtistMember" transform="translate(4024,36)"><rect class="sh" x="4" y="4" width="92" height="68"/><rect class="bx" width="92" height="68"/><text class="t" x="46" y="17.5">AddArtistMember</text><line class="dv" y1="27" x2="92" y2="27"/></g>
<g id="AlbumType" transform="translate(3981,140)"><rect class="sh" x="4" y="4" width="269" height="225"/><rect class="bx" width="269" height="225"/><text class="t" x="134.5" y="17.5">AlbumType</text><line class="dv" y1="26" x2="269" y2="26"/><rect class="bd" x="2" y="99" width="265" height="12.5"/><text class="a" y="26.5"><tspan x="7" dy="13">-</tspan><tspan x="21" class="u">DOUBLE_LONG_PLAY_CODE:  int = 5 {readOnly}</tspan><tspan x="7" dy="13">-</tspan><tspan x="21" class="u">EXTENDED_PLAY_CODE:  int = 2 {readOnly}</tspan><tspan x="7" dy="13">-</tspan><tspan x="21" class="u">LONG_PLAY_CODE:  int = 4 {readOnly}</tspan><tspan x="7" dy="13">-</tspan><tspan x="21" class="u">MIX_TAPE_CODE:  int = 1 {readOnly}</tspan><tspan x="7" dy="13">-</tspan><tspan x="21" class="u">SINGLE_CODE:  int = 3 {readOnly}</tspan></text><text class="e" y="108.5"><tspan x="4" class="dl">«enum»</tspan><tspan x="7" dy="13.5">+</tspan><tspan x="21">DOUBLE_LONG_PLAY</tspan><tspan x="7" dy="13">+</tspan><tspan x="21">EXTENDED_PLAY</tspan><tspan x="7" dy="13">+</tspan><tspan x="21">LONG_PLAY</tspan><tspan x="7" dy="13">+</tspan><tspan x="21">MIX_TAPE</tspan><tspan x="7" dy="13">+</tspan><tspan x="21">SINGLE</tspan></text><line class="dv" y1="186" x2="269" y2="186"/><text class="m" y="187.5"><tspan x="7" dy="13">-</tspan><tspan x="21" class="u">code(type :AlbumType) : int</tspan><tspan x="7" dy="13">+</tspan><tspan x="21" class="u">of(id :int, typeCode :int) : Album</tspan></text></g>
<g id="CommandFactory" transform="translate(3978,398)"><rect class="sh" x="4" y="4" width="198" height="69"/><rect class="bx" width="198" height="69"/><text class="t" x="99" y="17.5">CommandFactory</text><line class="dv" y1="26" x2="198" y2="26"/><text class="m" y="30.5"><tspan x="7" dy="13">+</tspan><tspan x="21" class="u">create(spelling :String) : Command</tspan></text></g>
<g id="KnownCommand" transform="translate(3973,483)"><rect class="sh" x="4" y="4" width="478" height="667"/><rect class="bx" width="478" height="667"/><text class="t" x="239" y="17.5">KnownCommand</text><line class="dv" y1="26" x2="478" y2="26"/><rect class="bd" x="2" y="320" width="474" height="12.5"/><text class="a" y="26.5"><tspan x="7" dy="13">-</tspan><tspan x="21" class="u">ADD_PLAYABLE_TO_PLAYABLE_LIST_SPELLING:  String = "/addPlayableTo... {readOnly}</tspan><tspan x="7" dy="13">-</tspan><tspan x="21" class="u">CREATE_GENRE_SPELLING:  String = "/createGenre" {readOnly}</tspan><tspan x="7" dy="13">-</tspan><tspan x="21" class="u">CREATE_MIX_TAPE_ALBUM_SPELLING:  String = "/createMixTape... {readOnly}</tspan><tspan x="7" dy="13">-</tspan><tspan x="21" class="u">CREATE_PLAYABLE_LIST_SPELLING:  String = "/createPlayabl... {readOnly}</tspan><tspan x="7" dy="13">-</tspan><tspan x="21" class="u">CREATE_PLAYLIST_SPELLING:  String = "/createPlaylist" {readOnly}</tspan><tspan x="7" dy="13">-</tspan><tspan x="21" class="u">CREATE_RECORD_ALBUM_SPELLING:  String = "/createRecordAlbum" {readOnly}</tspan><tspan x="7" dy="13">-</tspan><tspan x="21" class="u">CREATE_SUB_GENRE_SPELLING:  String = "/createSubGenre" {readOnly}</tspan><tspan x="7" dy="13">-</tspan><tspan x="21" class="u">CREATE_TRACK_SPELLING:  String = "/createTrack" {readOnly}</tspan><tspan x="7" dy="13">-</tspan><tspan x="21" class="u">DOWNLOAD_SPELLING:  String = "/download" {readOnly}</tspan><tspan x="7" dy="13">-</tspan><tspan x="21" class="u">LOGIN_SPELLING:  String = "/login" {readOnly}</tspan><tspan x="7" dy="13">-</tspan><tspan x="21" class="u">LOOP_SPELLING:  String = "/loop" {readOnly}</tspan><tspan x="7" dy="13">-</tspan><tspan x="21" class="u">NO_ENTRY_SPELLING:  String = "" {readOnly}</tspan><tspan x="7" dy="13">-</tspan><tspan x="21" class="u">NOT_FOUND_SPELLING_MESSAGE:  String = "If your comman... {readOnly}</tspan><tspan x="7" dy="13">-</tspan><tspan x="21" class="u">PLAY_NEXT_SPELLING:  String = "/playNext" {readOnly}</tspan><tspan x="7" dy="13">-</tspan><tspan x="21" class="u">PLAY_PREVIOUS_SPELLING:  String = "/playPrevious" {readOnly}</tspan><tspan x="7" dy="13">-</tspan><tspan x="21" class="u">PLAY_SPELLING:  String = "/play" {readOnly}</tspan><tspan x="7" dy="13">-</tspan><tspan x="21" class="u">REGISTER_SPELLING:  String = "/register" {readOnly}</tspan><tspan x="7" dy="13">-</tspan><tspan x="21" class="u">SEARCH_SPELLING:  String = "/search" {readOnly}</tspan><tspan x="7" dy="13">-</tspan><tspan x="21" class="u">SHOW_ALL_COMMANDS_SPELLING:  String = "/showAllCommands" {readOnly}</tspan><tspan x="7" dy="13">-</tspan><tspan x="21" class="u">SHUFFLE_SPELLING:  String = "/shuffle" {readOnly}</tspan><tspan x="7" dy="13">-</tspan><tspan x="21" class="u">SIGN_ARTIST_SPELLING:  String = "/signArtist" {readOnly}</tspan><tspan x="7" dy="13">-</tspan><tspan x="21" class="u">WELCOME_SPELLING:  String = "/welcome" {readOnly}</tspan></text><text class="e" y="329.5"><tspan x="4" class="dl">«enum»</tspan><tspan x="7" dy="13">+</tspan><tspan x="21">ADD_PLAYABLE_TO_PLAYABLE_LIST</tspan><tspan x="7" dy="13">+</tspan><tspan x="21">CREATE_GENRE</tspan><tspan x="7" dy="13">+</tspan><tspan x="21">CREATE_MIX_TAPE_ALBUM</tspan><tspan x="7" dy="13">+</tspan><tspan x="21">CREATE_PLAYABLE_LIST</tspan><tspan x="7" dy="13">+</tspan><tspan x="21">CREATE_PLAYLIST</tspan><tspan x="7" dy="13">+</tspan><tspan x="21">CREATE_RECORD_ALBUM</tspan><tspan x="7" dy="13">+</tspan><tspan x="21">CREATE_SUB_GENRE</tspan><tspan x="7" dy="13">+</tspan><tspan x="21">CREATE_TRACK</tspan><tspan x="7" dy="13">+</tspan><tspan x="21">DOWNLOAD</tspan><tspan x="7" dy="13">+</tspan><tspan x="21">LOGIN</tspan><tspan x="7" dy="13">+</tspan><tspan x="21">LOOP</tspan><tspan x="7" dy="13">+</tspan><tspan x="21">NO_ENTRY</tspan><tspan x="7" dy="13">+</tspan><tspan x="21">NOT_FOUND</tspan><tspan x="7" dy="13">+</tspan><tspan x="21">PLAY</tspan><tspan x="7" dy="13">+</tspan><tspan x="21">PLAY_NEXT</tspan><tspan x="7" dy="13">+</tspan><tspan x="21">PLAY_PREVIOUS</tspan><tspan x="7" dy="13">+</tspan><tspan x="21">REGISTER</tspan><tspan x="7" dy="13">+</tspan><tspan x="21">SEARCH</tspan><tspan x="7" dy="13">+</tspan><tspan x="21">SHOW_ALL_COMMANDS</tspan><tspan x="7" dy="13">+</tspan><tspan x="21">SHUFFLE</tspan><tspan x="7" dy="13">+</tspan><tspan x="21">SIGN_ARTIST</tspan><tspan x="7" dy="13">+</tspan><tspan x="21">WELCOME</tspan></text><line class="dv" y1="627" x2="478" y2="627"/><text class="m" y="627.5"><tspan x="7" dy="13">+</tspan><tspan x="21">spelling() : String</tspan><tspan x="7" dy="13">+</tspan><tspan x="21" class="u">translate(command :String) : KnownCommand</tspan></text></g>
<g id="CommandLine" transform="translate(3989,1193)"><rect class="sh" x="4" y="4" width="272" height="59"/><rect class="bx" width="272" height="59"/><text class="t" x="136" y="16">CommandLine</text><line class="dv" y1="25" x2="272" y2="25"/><text class="m" y="29.5"><tspan x="7" dy="13">+</tspan><tspan x="21" class="u">translateCommandline(toProcess :String) : String[]</tspan></text></g>
<g id="CreatePlayableList" transform="translate(1218,988.5)"><rect class="sh" x="4" y="4" width="537" height="122"/><rect class="bx" width="537" height="122"/><text class="t" x="268.5" y="18">CreatePlayableList</text><line class="dv" y1="26" x2="537" y2="26"/><text class="a" y="26"><tspan x="7" dy="13">#</tspan><tspan x="21">arguments:  List&lt;String&gt;</tspan></text><line class="dv" y1="52" x2="537" y2="52"/><text class="m" y="52"><tspan x="7" dy="13">#</tspan><tspan x="21">addPlayable(playable :Playable) : String</tspan><tspan x="7" dy="13">#</tspan><tspan x="21">addPlayableWhenArgumentsChecked(playableListId :int, playableId :int, type :KnownPlayable) : String</tspan><tspan x="7" dy="13">+</tspan><tspan x="21">createPlayableList(initializerPlayable :List&lt;Playable&gt;) : String</tspan><tspan x="7" dy="13">#</tspan><tspan x="21">getDescriptionOfFirstArgument() : String</tspan><tspan x="7" dy="13">+</tspan><tspan x="21">proceed(arguments :List&lt;String&gt;) : String</tspan></text></g>
<g id="CreatePlaylist" transform="translate(893.5,1355.5)"><rect class="sh" x="4" y="4" width="335" height="79"/><rect class="bx" width="335" height="79"/><text class="t" x="167.5" y="18">CreatePlaylist</text><line class="dv" y1="26" x2="335" y2="26"/><text class="m" y="30"><tspan x="7" dy="13">#</tspan><tspan x="21">addPlayable(playable :Playable) : String</tspan><tspan x="7" dy="13">+</tspan><tspan x="21">createPlayableList(initializerPlayable :List&lt;Playable&gt;) : String</tspan><tspan x="7" dy="13">#</tspan><tspan x="21">getPlayableSpellings() : String</tspan></text></g>
<g id="AddPlayableToPlayableList" transform="translate(1831,1317.4)"><rect class="sh" x="4" y="4" width="537" height="186"/><rect class="bx" width="537" height="186"/><text class="t" x="268.5" y="18">AddPlayableToPlayableList</text><line class="dv" y1="26" x2="537" y2="26"/><text class="a" y="26"><tspan x="7" dy="13">-</tspan><tspan x="21">playableList:  PlayableList</tspan></text><line class="dv" y1="52" x2="537" y2="52"/><text class="m" y="52"><tspan x="7" dy="13">#</tspan><tspan x="21">addPlayable(playable :Playable) : String</tspan><tspan x="7" dy="13">#</tspan><tspan x="21">addPlayableWhenArgumentsChecked(playableListId :int, playableId :int, type :KnownPlayable) : String</tspan><tspan x="7" dy="13">-</tspan><tspan x="21">checkNextArgument(arguments :List&lt;String&gt;, playableListId :int, playableId :int) : String</tspan><tspan x="7" dy="13">#</tspan><tspan x="21">checkNextArgument(playableId :int, type :KnownPlayable) : String</tspan><tspan x="7" dy="13">+</tspan><tspan x="21">getArgumentDescription() : String</tspan><tspan x="7" dy="13">#</tspan><tspan x="21">getDescriptionOfFirstArgument() : String</tspan><tspan x="7" dy="13">#</tspan><tspan x="21">getPlayableSpellings() : String</tspan><tspan x="7" dy="13">+</tspan><tspan x="21">getValidNumberOfArguments() : int</tspan><tspan x="7" dy="13">+</tspan><tspan x="21">proceed(arguments :List&lt;String&gt;) : String</tspan><tspan x="7" dy="13">#</tspan><tspan x="21">processNextArgument(arguments :List&lt;String&gt;, playableListId :int) : String</tspan></text></g>
<g id="Remix" transform="translate(856,1536)"><rect class="sh" x="4" y="4" width="410" height="68"/><rect class="bx" width="410" height="68"/><text class="t" x="205" y="17.5">Remix</text><line class="dv" y1="26" x2="410" y2="26"/><text class="m" y="30"><tspan x="7" dy="13">+</tspan><tspan x="21">Remix(audio :byte[], genre :Genre, remixers :List&lt;Artist&gt;, originalTrack :Track)</tspan><tspan x="7" dy="13">+</tspan><tspan x="21">Remix(id :int)</tspan></text></g>
<g id="Mashup" transform="translate(1340,1671.5)"><rect class="sh" x="4" y="4" width="526" height="135"/><rect class="bx" width="526" height="135"/><text class="t" x="263" y="18">Mashup</text><line class="dv" y1="26.5" x2="526" y2="26.5"/><text class="a" y="26.5"><tspan x="7" dy="13">-</tspan><tspan x="21">originalTracks:  List&lt;Track&gt; = new ArrayList&lt;&gt;() {readOnly}</tspan></text><line class="dv" y1="52.5" x2="526" y2="52.5"/><text class="m" y="52.5"><tspan x="7" dy="13">-</tspan><tspan x="21">addOriginalTrack(originalTrack :Track, id :int) : void</tspan><tspan x="7" dy="13">-</tspan><tspan x="21">addOriginalTracks(originalTracks :List&lt;Track&gt;, id :int) : void</tspan><tspan x="7" dy="13">-</tspan><tspan x="21">find(id :int) : void</tspan><tspan x="7" dy="13">+</tspan><tspan x="21">getOriginalTracks() : List&lt;Track&gt;</tspan><tspan x="7" dy="13">+</tspan><tspan x="21">Mashup(title :String, audio :byte[], genre :Genre, interpreters :List&lt;Artist&gt;, originalTracks :List&lt;Track&gt;)</tspan><tspan x="7" dy="13">+</tspan><tspan x="21">Mashup(id :int)</tspan></text></g>
<g id="CreateGenre" transform="translate(2486,2095)"><rect class="sh" x="4" y="4" width="226" height="79"/><rect class="bx" width="226" height="79"/><text class="t" x="113" y="18">CreateGenre</text><line class="dv" y1="26.5" x2="226" y2="26.5"/><text class="m" y="30"><tspan x="7" dy="13">+</tspan><tspan x="21">getArgumentDescription() : String</tspan><tspan x="7" dy="13">+</tspan><tspan x="21">getValidNumberOfArguments() : int</tspan><tspan x="7" dy="13">+</tspan><tspan x="21">proceed(arguments :List&lt;String&gt;) : String</tspan></text></g>
<g id="CreateSubGenre" transform="translate(1875,2166)"><rect class="sh" x="4" y="4" width="429" height="87"/><rect class="bx" width="429" height="87"/><text class="t" x="214.5" y="18">CreateSubGenre</text><line class="dv" y1="26.5" x2="429" y2="26.5"/><text class="m" y="29"><tspan x="7" dy="13">-</tspan><tspan x="21">createWhenSuperGenreExists(arguments :List&lt;String&gt;, superGenreID :int) : String</tspan><tspan x="7" dy="13">+</tspan><tspan x="21">getArgumentDescription() : String</tspan><tspan x="7" dy="13">+</tspan><tspan x="21">getValidNumberOfArguments() : int</tspan><tspan x="7" dy="13">+</tspan><tspan x="21">proceed(arguments :List&lt;String&gt;) : String</tspan></text></g>
<g id="Download" transform="translate(2480,2206)"><rect class="sh" x="4" y="4" width="247" height="87"/><rect class="bx" width="247" height="87"/><text class="t" x="123.5" y="18">Download</text><line class="dv" y1="26.5" x2="247" y2="26.5"/><text class="m" y="29.5"><tspan x="7" dy="13">+</tspan><tspan x="21">getArgumentDescription() : String</tspan><tspan x="7" dy="13">+</tspan><tspan x="21">getValidNumberOfArguments() : int</tspan><tspan x="7" dy="13">+</tspan><tspan x="21">proceed(arguments :List&lt;String&gt;) : String</tspan><tspan x="7" dy="13">+</tspan><tspan x="21">processPlayable(playable :Playable) : String</tspan></text></g>
<g id="Play" transform="translate(1952,2295)"><rect class="sh" x="4" y="4" width="249" height="68"/><rect class="bx" width="249" height="68"/><text class="t" x="124.5" y="18">Play</text><line class="dv" y1="26" x2="249" y2="26"/><text class="m" y="30"><tspan x="7" dy="13">+</tspan><tspan x="21">processPlayable(playable :Playable) : String</tspan></text></g>
<g id="Login" transform="translate(2486,2346)"><rect class="sh" x="4" y="4" width="226" height="88"/><rect class="bx" width="226" height="88"/><text class="t" x="113" y="18">Login</text><line class="dv" y1="26" x2="226" y2="26"/><text class="m" y="30"><tspan x="7" dy="13">+</tspan><tspan x="21">getArgumentDescription() : String</tspan><tspan x="7" dy="13">+</tspan><tspan x="21">getValidNumberOfArguments() : int</tspan><tspan x="7" dy="13">+</tspan><tspan x="21">loginIsRequired() : boolean</tspan><tspan x="7" dy="13">+</tspan><tspan x="21">proceed(arguments :List&lt;String&gt;) : String</tspan></text></g>
<g id="Register" transform="translate(2486,2480)"><rect class="sh" x="4" y="4" width="226" height="100"/><rect class="bx" width="226" height="100"/><text class="t" x="113" y="18">Register</text><line class="dv" y1="26" x2="226" y2="26"/><text class="m" y="29.5"><tspan x="7" dy="13">-</tspan><tspan x="21">emailIsValid(email :String) : boolean</tspan><tspan x="7" dy="13">+</tspan><tspan x="21">getArgumentDescription() : String</tspan><tspan x="7" dy="13">+</tspan><tspan x="21">getValidNumberOfArguments() : int</tspan><tspan x="7" dy="13">+</tspan><tspan x="21">loginIsRequired() : boolean</tspan><tspan x="7" dy="13">+</tspan><tspan x="21">proceed(arguments :List&lt;String&gt;) : String</tspan></text></g>
<g id="Search" transform="translate(2456,2616)"><rect class="sh" x="4" y="4" width="300" height="108"/><rect class="bx" width="300" height="108"/><text class="t" x="150" y="18">Search</text><line class="dv" y1="26" x2="300" y2="26"/><text class="a" y="26"><tspan x="7" dy="13">-</tspan><tspan x="21" class="u">VALID_NUMBER_OF_ARGUMENTS:  int = 2 {readOnly}</tspan></text><line class="dv" y1="51" x2="300" y2="51"/><text class="m" y="51"><tspan x="7" dy="13">+</tspan><tspan x="21">create(searchable :KnownSearchable) : Searcher</tspan><tspan x="7" dy="13">+</tspan><tspan x="21">getArgumentDescription() : String</tspan><tspan x="7" dy="13">+</tspan><tspan x="21">getValidNumberOfArguments() : int</tspan><tspan x="7" dy="13">+</tspan><tspan x="21">proceed(arguments :List&lt;String&gt;) : String</tspan></text></g>
<g id="Loop" transform="translate(2467,2762)"><rect class="sh" x="4" y="4" width="269" height="134"/><rect class="bx" width="269" height="134"/><text class="t" x="134.5" y="18">Loop</text><line class="dv" y1="26" x2="269" y2="26"/><text class="a" y="26"><tspan x="7" dy="13">-</tspan><tspan x="21" class="u">OFF:  String = "Off" {readOnly}</tspan><tspan x="7" dy="13">-</tspan><tspan x="21" class="u">ON:  String = "On" {readOnly}</tspan></text><line class="dv" y1="64" x2="269" y2="64"/><text class="m" y="64"><tspan x="7" dy="13">+</tspan><tspan x="21">conditionIsMet(arguments :List&lt;String&gt;) : boolean</tspan><tspan x="7" dy="13">+</tspan><tspan x="21">getArgumentDescription() : String</tspan><tspan x="7" dy="13">+</tspan><tspan x="21">getFailedMessage() : String</tspan><tspan x="7" dy="13">+</tspan><tspan x="21">getValidNumberOfArguments() : int</tspan><tspan x="7" dy="13">+</tspan><tspan x="21">proceed(arguments :List&lt;String&gt;) : String</tspan></text></g>
<g id="Shuffle" transform="translate(2467,2942.5)"><rect class="sh" x="4" y="4" width="272" height="133"/><rect class="bx" width="272" height="133"/><text class="t" x="136" y="18">Shuffle</text><line class="dv" y1="26" x2="272" y2="26"/><text class="a" y="26"><tspan x="7" dy="13">-</tspan><tspan x="21" class="u">OFF:  String = "Off" {readOnly}</tspan><tspan x="7" dy="13">-</tspan><tspan x="21" class="u">ON:  String = "On" {readOnly}</tspan></text><line class="dv" y1="64" x2="272" y2="64"/><text class="m" y="64"><tspan x="7" dy="13">+</tspan><tspan x="21">conditionIsMet(arguments :List&lt;String&gt;) : boolean</tspan><tspan x="7" dy="13">+</tspan><tspan x="21">getArgumentDescription() : String</tspan><tspan x="7" dy="13">+</tspan><tspan x="21">getFailedMessage() : String</tspan><tspan x="7" dy="13">+</tspan><tspan x="21">getValidNumberOfArguments() : int</tspan><tspan x="7" dy="13">+</tspan><tspan x="21">proceed(arguments :List&lt;String&gt;) : String</tspan></text></g>
<g id="ExactArgumentAmountExpectation" transform="translate(2994,2358.6)"><rect class="sh" x="4" y="4" width="268" height="102"/><rect class="bx" width="268" height="102"/><text class="st" x="134" y="12">«interface»</text><text class="ti" x="134" y="27.5">ExactArgumentAmountExpectation</text><line class="dv" y1="32" x2="268" y2="32"/><rect class="bd" x="2" y="54.5" width="264" height="12.5"/><text class="m i" y="34"><tspan x="7" dy="13">+</tspan><tspan x="21">getValidNumberOfArguments() : int</tspan><tspan x="4" dy="17" class="dl" font-style="normal">«default»</tspan><tspan x="7" dy="13">+</tspan><tspan x="21">conditionIsMet(arguments :List&lt;String&gt;) : boolean</tspan><tspan x="7" dy="13">+</tspan><tspan x="21">getFailedMessage() : String</tspan></text></g>
<g id="Expectation" transform="translate(3491,3026)"><rect class="sh" x="4" y="4" width="271" height="127"/><rect class="bx" width="271" height="127"/><text class="st" x="135.5" y="11.5">«interface»</text><text class="ti" x="135.5" y="26.5">Expectation</text><line class="dv" y1="31" x2="271" y2="31"/><rect class="bd" x="2" y="80.5" width="267" height="12.5"/><text class="m i" y="34"><tspan x="7" dy="13">+</tspan><tspan x="21">conditionIsMet(arguments :List&lt;String&gt;) : boolean</tspan><tspan x="7" dy="13">+</tspan><tspan x="21">getFailedMessage() : String</tspan><tspan x="7" dy="13">+</tspan><tspan x="21">proceed(arguments :List&lt;String&gt;) : String</tspan><tspan x="4" dy="17" class="dl" font-style="normal">«default»</tspan><tspan x="7" dy="13">+</tspan><tspan x="21">execute(arguments :List&lt;String&gt;) : String</tspan><tspan x="7" dy="13">+</tspan><tspan x="21">loginIsRequired() : boolean</tspan></text></g>
<g id="Command" transform="translate(3977,2945)"><rect class="sh" x="4" y="4" width="226" height="88"/><rect class="bx" width="226" height="88"/><text class="st" x="113" y="11.5">«interface»</text><text class="ti" x="113" y="26.5">Command</text><line class="dv" y1="31" x2="226" y2="31"/><text class="m i" y="34"><tspan x="7" dy="13">+</tspan><tspan x="21">execute(arguments :List&lt;String&gt;) : String</tspan><tspan x="7" dy="13">+</tspan><tspan x="21">getArgumentDescription() : String</tspan><tspan x="7" dy="13">+</tspan><tspan x="21">loginIsRequired() : boolean</tspan></text></g>
<g id="UserInterfacePlayableAvailableExpectation" transform="translate(2994,3032)"><rect class="sh" x="4" y="4" width="272" height="114"/><rect class="bx" width="272" height="114"/><text class="st" x="136" y="11">«interface»</text><text class="ti" x="136" y="26">UserInterfacePlayableAvailableExpectation</text><line class="dv" y1="30.5" x2="272" y2="30.5"/><rect class="bd" x="2" y="40.5" width="268" height="12.5"/><text class="m i" y="50"><tspan x="4" class="dl" font-style="normal">«default»</tspan><tspan x="7" dy="13">+</tspan><tspan x="21">conditionIsMet(arguments :List&lt;String&gt;) : boolean</tspan><tspan x="7" dy="13">+</tspan><tspan x="21">execute(arguments :List&lt;String&gt;) : String</tspan><tspan x="7" dy="13">+</tspan><tspan x="21">getArgumentDescription() : String</tspan><tspan x="7" dy="13">+</tspan><tspan x="21">getFailedMessage() : String</tspan></text></g>
<g id="NoExpectation" transform="translate(2984,3181)"><rect class="sh" x="4" y="4" width="300" height="137"/><rect class="bx" width="300" height="137"/><text class="st" x="150" y="12.5">«interface»</text><text class="ti" x="150" y="27.5">NoExpectation</text><line class="dv" y1="32" x2="300" y2="32"/><text class="a" y="30.5"><tspan x="7" dy="13">+</tspan><tspan x="21" class="u">NO_ARGUMENT_DESCRIPTION:  String = "" {readOnly}</tspan></text><line class="dv" y1="58" x2="300" y2="58"/><rect class="bd" x="2" y="64" width="296" height="12.5"/><text class="m i" y="73.5"><tspan x="4" class="dl" font-style="normal">«default»</tspan><tspan x="7" dy="13">+</tspan><tspan x="21">conditionIsMet(arguments :List&lt;String&gt;) : boolean</tspan><tspan x="7" dy="13">+</tspan><tspan x="21">getArgumentDescription() : String</tspan><tspan x="7" dy="13">+</tspan><tspan x="21">getFailedMessage() : String</tspan><tspan x="7" dy="13">+</tspan><tspan x="21">loginIsRequired() : boolean</tspan></text></g>
<g id="MinimumArgumentAmountExpectation" transform="translate(2994,3357.5)"><rect class="sh" x="4" y="4" width="272" height="102"/><rect class="bx" width="272" height="102"/><text class="st" x="136" y="12.5">«interface»</text><text class="ti" x="136" y="27.5">MinimumArgumentAmountExpectation</text><line class="dv" y1="32" x2="272" y2="32"/><rect class="bd" x="2" y="55" width="268" height="12.5"/><text class="m i" y="34.5"><tspan x="7" dy="13">+</tspan><tspan x="21">getMinimumNumberOfArguments() : int</tspan><tspan x="4" dy="17" class="dl" font-style="normal">«default»</tspan><tspan x="7" dy="13">+</tspan><tspan x="21">conditionIsMet(arguments :List&lt;String&gt;) : boolean</tspan><tspan x="7" dy="13">+</tspan><tspan x="21">getFailedMessage() : String</tspan></text></g>
<g id="ArtistIdChecker" transform="translate(3541,3193)"><rect class="sh" x="4" y="4" width="164" height="70"/><rect class="bx" width="164" height="70"/><text class="t" x="82" y="18.5">Artist::ArtistIdChecker</text><line class="dv" y1="28" x2="164" y2="28"/><text class="m" y="32"><tspan x="7" dy="13">#</tspan><tspan x="21">getIdExistsCallSP() : String</tspan></text></g>
<g id="GenreIdChecker" transform="translate(3541,3294)"><rect class="sh" x="4" y="4" width="164" height="69"/><rect class="bx" width="164" height="69"/><text class="t" x="82" y="18.5">Genre::GenreIdChecker</text><line class="dv" y1="28" x2="164" y2="28"/><text class="m" y="32"><tspan x="7" dy="13">#</tspan><tspan x="21">getIdExistsCallSP() : String</tspan></text></g>
<g id="TrackIdChecker" transform="translate(3541,3394)"><rect class="sh" x="4" y="4" width="164" height="69"/><rect class="bx" width="164" height="69"/><text class="t" x="82" y="18.5">Track::TrackIdChecker</text><line class="dv" y1="28" x2="164" y2="28"/><text class="m" y="32"><tspan x="7" dy="13">#</tspan><tspan x="21">getIdExistsCallSP() : String</tspan></text></g>
<g id="PlayableListIdChecker" transform="translate(3541,3493.5)"><rect class="sh" x="4" y="4" width="164" height="75"/><rect class="bx" width="164" height="75"/><text class="t" x="82" y="18">PlayableList::</text><text class="t" x="82" y="31.5">PlayableListIdChecker</text><line class="dv" y1="38" x2="164" y2="38"/><text class="m" y="44.5"><tspan x="7" dy="13">#</tspan><tspan x="21">getIdExistsCallSP() : String</tspan></text></g>
<g id="AlbumIdChecker" transform="translate(3044,3493.5)"><rect class="sh" x="4" y="4" width="164" height="69"/><rect class="bx" width="164" height="69"/><text class="t" x="82" y="18.5">Album::AlbumIdChecker</text><line class="dv" y1="28" x2="164" y2="28"/><text class="m" y="32"><tspan x="7" dy="13">#</tspan><tspan x="21">getIdExistsCallSP() : String</tspan></text></g>
<g id="IdChecker" transform="translate(4007,3294)"><rect class="sh" x="4" y="4" width="162" height="70"/><rect class="bx" width="162" height="70"/><text class="ti" x="81" y="17.5">IdChecker</text><line class="dv" y1="27" x2="162" y2="27"/><text class="m" y="31"><tspan x="7" dy="13">+</tspan><tspan x="21">exists(id :int) : boolean</tspan><tspan x="7" dy="13">#</tspan><tspan x="21" class="i">getIdExistsCallSP() : String</tspan></text></g>
<g id="Commusify" transform="translate(3958,3161)"><rect class="sh" x="4" y="4" width="273" height="94"/><rect class="bx" width="273" height="94"/><text class="t" x="136.5" y="18">Commusify</text><line class="dv" y1="26" x2="273" y2="26"/><text class="a" y="27"><tspan x="7" dy="13">+</tspan><tspan x="21" class="u">DATABASE:  String = "jdbc:sqlserver... {readOnly}</tspan><tspan x="7" dy="13">+</tspan><tspan x="21" class="u">INVALID_ID:  int = 0 {readOnly}</tspan></text><line class="dv" y1="66" x2="273" y2="66"/><text class="m" y="66.5"><tspan x="7" dy="13">+</tspan><tspan x="21" class="u">main(args :String[]) : void</tspan><tspan x="7" dy="12.5">+</tspan><tspan x="21" class="u">reset() : void</tspan></text></g>
<g id="CreateMashup" transform="translate(4024.5,3394)"><rect class="sh" x="4" y="4" width="92" height="69"/><rect class="bx" width="92" height="69"/><text class="t" x="46" y="18.5">CreateMashup</text><line class="dv" y1="27" x2="92" y2="27"/></g>
<g id="CreateRemix" transform="translate(4024.5,3493.5)"><rect class="sh" x="4" y="4" width="92" height="69"/><rect class="bx" width="92" height="69"/><text class="t" x="46" y="18.5">CreateRemix</text><line class="dv" y1="27" x2="92" y2="27"/></g>
<g id="NumericChecker" transform="translate(3991,3593.4)"><rect class="sh" x="4" y="4" width="196" height="69"/><rect class="bx" width="196" height="69"/><text class="t" x="98" y="18.5">NumericChecker</text><line class="dv" y1="27" x2="196" y2="27"/><text class="m" y="31.5"><tspan x="7" dy="13">+</tspan><tspan x="21" class="u">isNumeric(string :String) : boolean</tspan></text></g>
<g id="PlayNext" transform="translate(2486,3114)"><rect class="sh" x="4" y="4" width="230" height="70"/><rect class="bx" width="230" height="70"/><text class="t" x="115" y="18">PlayNext</text><line class="dv" y1="26" x2="230" y2="26"/><text class="m" y="31.5"><tspan x="7" dy="13">+</tspan><tspan x="21">proceed(arguments :List&lt;String&gt;) : String</tspan></text></g>
<g id="PlayPrevious" transform="translate(2486,3213.5)"><rect class="sh" x="4" y="4" width="230" height="70"/><rect class="bx" width="230" height="70"/><text class="t" x="115" y="18">PlayPrevious</text><line class="dv" y1="26" x2="230" y2="26"/><text class="m" y="31.5"><tspan x="7" dy="13">+</tspan><tspan x="21">proceed(arguments :List&lt;String&gt;) : String</tspan></text></g>
<g id="NoEntry" transform="translate(1946,3254)"><rect class="sh" x="4" y="4" width="257" height="82"/><rect class="bx" width="257" height="82"/><text class="t" x="128.5" y="18">NoEntry</text><line class="dv" y1="25.5" x2="257" y2="25.5"/><text class="a" y="27"><tspan x="7" dy="13">-</tspan><tspan x="21" class="u">NO_ENTRY_REACTION:  String = "" {readOnly}</tspan></text><line class="dv" y1="49" x2="257" y2="49"/><text class="m" y="53.5"><tspan x="7" dy="13">+</tspan><tspan x="21">getArgumentDescription() : String</tspan><tspan x="7" dy="12.5">+</tspan><tspan x="21">NoEntry()</tspan></text></g>
<g id="CommandNotFound" transform="translate(1945,3373.4)"><rect class="sh" x="4" y="4" width="257" height="69"/><rect class="bx" width="257" height="69"/><text class="t" x="128.5" y="18">CommandNotFound</text><line class="dv" y1="26" x2="257" y2="26"/><text class="m" y="31.5"><tspan x="7" dy="13">+</tspan><tspan x="21">CommandNotFound(commandSpelling :String)</tspan></text></g>
<g id="Welcome" transform="translate(1958,3473)"><rect class="sh" x="4" y="4" width="230" height="70"/><rect class="bx" width="230" height="70"/><text class="t" x="115" y="18.5">Welcome</text><line class="dv" y1="26" x2="230" y2="26"/><text class="m" y="31.5"><tspan x="7" dy="13">+</tspan><tspan x="21">execute(arguments :List&lt;String&gt;) : String</tspan><tspan x="7" dy="13">+</tspan><tspan x="21">Welcome()</tspan></text></g>
<g id="MissingAuthentification" transform="translate(2466,3321.4)"><rect class="sh" x="4" y="4" width="275.5" height="95"/><rect class="bx" width="275.5" height="95"/><text class="t" x="137.75" y="17.5">MissingAuthentification</text><line class="dv" y1="26" x2="275.5" y2="26"/><text class="a" y="26.5"><tspan x="7" dy="13">-</tspan><tspan x="21">commandSpelling:  String {readOnly}</tspan></text><line class="dv" y1="50" x2="275.5" y2="50"/><text class="m" y="52.5"><tspan x="7" dy="13">+</tspan><tspan x="21">loginIsRequired() : boolean</tspan><tspan x="7" dy="13">+</tspan><tspan x="21">MissingAuthentification(commandSpelling :String)</tspan><tspan x="7" dy="13">+</tspan><tspan x="21">proceed(arguments :List&lt;String&gt;) : String</tspan></text></g>
<g id="ShowAllCommands" transform="translate(2450,3433)"><rect class="sh" x="4" y="4" width="355" height="96"/><rect class="bx" width="355" height="96"/><text class="t" x="177.5" y="18">ShowAllCommands</text><line class="dv" y1="26" x2="355" y2="26"/><text class="a" y="27"><tspan x="7" dy="13">-</tspan><tspan x="21" class="u">COMMAND_DELIMITER:  String = "\n\t" {readOnly}</tspan><tspan x="7" dy="13">-</tspan><tspan x="21" class="u">SPELLING_ARGUMENTDESC_DELIMITER:  String = " " {readOnly}</tspan></text><line class="dv" y1="62" x2="355" y2="62"/><text class="m" y="66"><tspan x="7" dy="13">+</tspan><tspan x="21">loginIsRequired() : boolean</tspan><tspan x="7" dy="13">+</tspan><tspan x="21">proceed(arguments :List&lt;String&gt;) : String</tspan></text></g>
<g id="SimpleMessage" transform="translate(2480,3606)"><rect class="sh" x="4" y="4" width="229" height="82"/><rect class="bx" width="229" height="82"/><text class="t" x="114.5" y="18">SimpleMessage</text><line class="dv" y1="26" x2="229" y2="26"/><text class="a" y="27"><tspan x="7" dy="13">-</tspan><tspan x="21">message:  String {readOnly}</tspan></text><line class="dv" y1="49.5" x2="229" y2="49.5"/><text class="m" y="52.8"><tspan x="7" dy="13">+</tspan><tspan x="21">proceed(arguments :List&lt;String&gt;) : String</tspan><tspan x="7" dy="13">+</tspan><tspan x="21">SimpleMessage(message :String)</tspan></text></g>
<g id="CreateRecordAlbum" transform="translate(2338,3746)"><rect class="sh" x="4" y="4" width="577" height="126"/><rect class="bx" width="577" height="126"/><text class="t" x="288.5" y="18">CreateRecordAlbum</text><line class="dv" y1="27" x2="577" y2="27"/><text class="m" y="30.8"><tspan x="7" dy="13">-</tspan><tspan x="21">checkNextArgument(arguments :List&lt;String&gt;, track :Track, interpreterIds :List&lt;Integer&gt;) : String</tspan><tspan x="7" dy="13">#</tspan><tspan x="21">createAlbum(arguments :List&lt;String&gt;, track :List&lt;Track&gt;, artist :List&lt;Artist&gt;) : String</tspan><tspan x="7" dy="13">-</tspan><tspan x="21">createAlbumWhenArgumentsChecked(arguments :List&lt;String&gt;, trackId :int, interpreterIds :List&lt;Integer&gt;) : String</tspan><tspan x="7" dy="13">+</tspan><tspan x="21">getArgumentDescription() : String</tspan><tspan x="7" dy="13">+</tspan><tspan x="21">getMinimumNumberOfArguments() : int</tspan><tspan x="7" dy="13">+</tspan><tspan x="21">proceed(arguments :List&lt;String&gt;) : String</tspan><tspan x="7" dy="13">-</tspan><tspan x="21">processNextArgument(arguments :List&lt;String&gt;, trackId :int) : String</tspan></text></g>
<g id="CreateMixTapeAlbum" transform="translate(1872,3873.6)"><rect class="sh" x="4" y="4" width="439" height="69"/><rect class="bx" width="439" height="69"/><text class="t" x="219.5" y="18">CreateMixTapeAlbum</text><line class="dv" y1="26" x2="439" y2="26"/><text class="m" y="31.6"><tspan x="7" dy="13">#</tspan><tspan x="21">createAlbum(arguments :List&lt;String&gt;, track :List&lt;Track&gt;, artist :List&lt;Artist&gt;) : String</tspan><tspan x="7" dy="13">+</tspan><tspan x="21">getArgumentDescription() : String</tspan></text></g>
<g id="SignArtist" transform="translate(2486,3914)"><rect class="sh" x="4" y="4" width="230" height="78"/><rect class="bx" width="230" height="78"/><text class="t" x="115" y="18">SignArtist</text><line class="dv" y1="26" x2="230" y2="26"/><text class="m" y="30.8"><tspan x="7" dy="13">+</tspan><tspan x="21">getArgumentDescription() : String</tspan><tspan x="7" dy="13">+</tspan><tspan x="21">getMinimumNumberOfArguments() : int</tspan><tspan x="7" dy="13">+</tspan><tspan x="21">proceed(arguments :List&lt;String&gt;) : String</tspan></text></g>
<g id="CreateTrack" transform="translate(2342.6,4025.4)"><rect class="sh" x="4" y="4" width="568" height="126"/><rect class="bx" width="568" height="126"/><text class="t" x="284" y="17.5">CreateTrack</text><line class="dv" y1="27" x2="568" y2="27"/><text class="m" y="30.9"><tspan x="7" dy="13">-</tspan><tspan x="21">createTrack(arguments :List&lt;String&gt;, file :File, genre :Genre, interpreters :List&lt;Artist&gt;) : String</tspan><tspan x="7" dy="13">-</tspan><tspan x="21">createTrackWhenAuthorized(arguments :List&lt;String&gt;, file :File, genre :Genre, interpreters :List&lt;Artist&gt;) : String</tspan><tspan x="7" dy="13">+</tspan><tspan x="21">getArgumentDescription() : String</tspan><tspan x="7" dy="13">+</tspan><tspan x="21">getMinimumNumberOfArguments() : int</tspan><tspan x="7" dy="13">+</tspan><tspan x="21">proceed(arguments :List&lt;String&gt;) : String</tspan><tspan x="7" dy="13">-</tspan><tspan x="21">processNextArgument(arguments :List&lt;String&gt;, file :File) : String</tspan><tspan x="7" dy="13">-</tspan><tspan x="21">processNextArgument(arguments :List&lt;String&gt;, file :File, genre :Genre) : String</tspan></text></g>
<g id="PlayableSearcher" transform="translate(3512,3646.7)"><rect class="sh" x="4" y="4" width="231.5" height="84.3"/><rect class="bx" width="231.5" height="84.3"/><text class="t" x="115.75" y="18">Playable::PlayableSearcher</text><line class="dv" y1="26.8" x2="231.5" y2="26.8"/><text class="m" y="31.4"><tspan x="7" dy="13">#</tspan><tspan x="21">getSearchCallSP() : String</tspan><tspan x="7" dy="13">+</tspan><tspan x="21">of(id :int) : Searchable</tspan><tspan x="7" dy="13">+</tspan><tspan x="21">search(search :String) : List&lt;Searchable&gt;</tspan></text></g>
<g id="NotFoundSearcher" transform="translate(3512,3786.4)"><rect class="sh" x="4" y="4" width="231.5" height="84.3"/><rect class="bx" width="231.5" height="84.3"/><text class="t" x="115.75" y="18">Search::NotFoundSearcher</text><line class="dv" y1="26.8" x2="231.5" y2="26.8"/><text class="m" y="31.4"><tspan x="7" dy="13">+</tspan><tspan x="21">getSearchCallSP() : String</tspan><tspan x="7" dy="13">+</tspan><tspan x="21">of(id :int) : Searchable</tspan><tspan x="7" dy="13">+</tspan><tspan x="21">search(search :String) : List&lt;Searchable&gt;</tspan></text></g>
<g id="ArtistSearcher" transform="translate(3542.5,3914)"><rect class="sh" x="4" y="4" width="157" height="73.3"/><rect class="bx" width="157" height="73.3"/><text class="t" x="78.5" y="17.5">Artist::ArtistSearcher</text><line class="dv" y1="26" x2="157" y2="26"/><text class="m" y="30.5"><tspan x="7" dy="13">#</tspan><tspan x="21">getSearchCallSP() : String</tspan><tspan x="7" dy="13">+</tspan><tspan x="21">of(id :int) : Searchable</tspan></text></g>
<g id="GenreSearcher" transform="translate(3542.5,4013.5)"><rect class="sh" x="4" y="4" width="157" height="74.5"/><rect class="bx" width="157" height="74.5"/><text class="t" x="78.5" y="17.5">Genre::GenreSearcher</text><line class="dv" y1="26" x2="157" y2="26"/><text class="m" y="30"><tspan x="7" dy="13">#</tspan><tspan x="21">getSearchCallSP() : String</tspan><tspan x="7" dy="13">+</tspan><tspan x="21">of(id :int) : Searchable</tspan></text></g>
<g id="PlayableListSearcher" transform="translate(3542.5,4126.4)"><rect class="sh" x="4" y="4" width="157" height="84.2"/><rect class="bx" width="157" height="84.2"/><text class="t" x="78.5" y="17.5">PlayableList::</text><text class="t" x="78.5" y="30">PlayableListSearcher</text><line class="dv" y1="37" x2="157" y2="37"/><line class="dv" y1="39.6" x2="157" y2="39.6"/><text class="m" y="43.4"><tspan x="7" dy="13">+</tspan><tspan x="21">getSearchCallSP() : String</tspan><tspan x="7" dy="13">+</tspan><tspan x="21">of(id :int) : Searchable</tspan></text></g>
<g id="TrackSearcher" transform="translate(3542.5,4254)"><rect class="sh" x="4" y="4" width="157" height="74.5"/><rect class="bx" width="157" height="74.5"/><text class="t" x="78.5" y="17">Track::TrackSearcher</text><line class="dv" y1="24.5" x2="157" y2="24.5"/><line class="dv" y1="27" x2="157" y2="27"/><text class="m" y="30"><tspan x="7" dy="13">+</tspan><tspan x="21">getSearchCallSP() : String</tspan><tspan x="7" dy="13">+</tspan><tspan x="21">of(id :int) : Searchable</tspan></text></g>
<g id="UserSearcher" transform="translate(3542.5,4354)"><rect class="sh" x="4" y="4" width="157" height="73.4"/><rect class="bx" width="157" height="73.4"/><text class="t" x="78.5" y="17">User::UserSearcher</text><line class="dv" y1="26" x2="157" y2="26"/><text class="m" y="29.5"><tspan x="7" dy="13">#</tspan><tspan x="21">getSearchCallSP() : String</tspan><tspan x="7" dy="13">+</tspan><tspan x="21">of(id :int) : Searchable</tspan></text></g>
<g id="AlbumSearcher" transform="translate(3045.7,4053.7)"><rect class="sh" x="4" y="4" width="157" height="74"/><rect class="bx" width="157" height="74"/><text class="t" x="78.5" y="17">Album::AlbumSearcher</text><line class="dv" y1="26" x2="157" y2="26"/><text class="m" y="30"><tspan x="7" dy="13">+</tspan><tspan x="21">getSearchCallSP() : String</tspan><tspan x="7" dy="13">+</tspan><tspan x="21">of(id :int) : Searchable</tspan></text></g>
<g id="PlaylistSearcher" transform="translate(3051.4,4153.8)"><rect class="sh" x="4" y="4" width="136.5" height="69"/><rect class="bx" width="136.5" height="69"/><text class="t" x="68.25" y="17">Playlist::</text><text class="t" x="68.25" y="29.7">PlaylistSearcher</text><line class="dv" y1="39" x2="136.5" y2="39"/><text class="m" y="42.7"><tspan x="7" dy="13">+</tspan><tspan x="21">of(id :int) : Searchable</tspan></text></g>
<g id="Searcher" transform="translate(3977.4,3994.3)"><rect class="sh" x="4" y="4" width="231.5" height="78.2"/><rect class="bx" width="231.5" height="78.2"/><text class="ti" x="115.75" y="15.2">Searcher</text><line class="dv" y1="24.7" x2="231.5" y2="24.7"/><text class="m" y="28.9"><tspan x="7" dy="13">#</tspan><tspan x="21" class="i">getSearchCallSP() : String</tspan><tspan x="7" dy="13">+</tspan><tspan x="21" class="i">of(id :int) : Searchable</tspan><tspan x="7" dy="13">+</tspan><tspan x="21">search(search :String) : List&lt;Searchable&gt;</tspan></text></g>
<g id="KnownPlayable" transform="translate(3944.7,3678)"><rect class="sh" x="4" y="4" width="395.7" height="251.2"/><rect class="bx" width="395.7" height="251.2"/><text class="t" x="197.85" y="17.2">KnownPlayable</text><line class="dv" y1="26.8" x2="395.7" y2="26.8"/><rect class="bd" x="2" y="99.7" width="391.7" height="12.5"/><text class="a" y="26.7"><tspan x="7" dy="13">-</tspan><tspan x="21" class="u">ALBUM_SPELLING:  String = "Album" {readOnly}</tspan><tspan x="7" dy="13">-</tspan><tspan x="21" class="u">NOT_FOUND_SPELLING_MESSAGE:  String = "If your playab... {readOnly}</tspan><tspan x="7" dy="13">-</tspan><tspan x="21" class="u">PLAYABLE_LIST_SPELLING:  String = "PlayableList" {readOnly}</tspan><tspan x="7" dy="13">-</tspan><tspan x="21" class="u">PLAYLIST_SPELLING:  String = "Playlist" {readOnly}</tspan><tspan x="7" dy="13">-</tspan><tspan x="21" class="u">TRACK_SPELLING:  String = "Track" {readOnly}</tspan></text><text class="e" y="109.2"><tspan x="4" class="dl">«enum»</tspan><tspan x="7" dy="13">+</tspan><tspan x="21">ALBUM</tspan><tspan x="7" dy="13">+</tspan><tspan x="21">NOT_FOUND</tspan><tspan x="7" dy="13">+</tspan><tspan x="21">PLAYABLE_LIST</tspan><tspan x="7" dy="13">+</tspan><tspan x="21">PLAYLIST</tspan><tspan x="7" dy="13">+</tspan><tspan x="21">TRACK</tspan></text><line class="dv" y1="186.8" x2="395.7" y2="186.8"/><text class="m" y="186.7"><tspan x="7" dy="13">+</tspan><tspan x="21" class="u">getSpellings() : String</tspan><tspan x="7" dy="13">-</tspan><tspan x="21">search(search :String) : List&lt;Searchable&gt;</tspan><tspan x="7" dy="13">+</tspan><tspan x="21">spelling() : String</tspan><tspan x="7" dy="13">+</tspan><tspan x="21" class="u">translate(spelling :String) : KnownPlayable</tspan></text></g>
<g id="KnownRecordType" transform="translate(3917.6,4164.4)"><rect class="sh" x="4" y="4" width="393" height="239"/><rect class="bx" width="393" height="239"/><text class="t" x="196.5" y="17.3">KnownRecordType</text><line class="dv" y1="26" x2="393" y2="26"/><rect class="bd" x="2" y="99" width="389" height="12.5"/><text class="a" y="26.1"><tspan x="7" dy="13">-</tspan><tspan x="21" class="u">DOUBLE_LONG_PLAY_SPELLING:  String = "DoubleLongPlay" {readOnly}</tspan><tspan x="7" dy="13">-</tspan><tspan x="21" class="u">EXTENDED_PLAY_SPELLING:  String = "ExtendedPlay" {readOnly}</tspan><tspan x="7" dy="13">-</tspan><tspan x="21" class="u">LONG_PLAY_SPELLING:  String = "LongPlay" {readOnly}</tspan><tspan x="7" dy="13">-</tspan><tspan x="21" class="u">NOT_FOUND_MESSAGE_SPELLING:  String = "If your record... {readOnly}</tspan><tspan x="7" dy="13">-</tspan><tspan x="21" class="u">SINGLE_SPELLING:  String = "Single" {readOnly}</tspan></text><text class="e" y="108.5"><tspan x="4" class="dl">«enum»</tspan><tspan x="7" dy="13">+</tspan><tspan x="21">DOUBLE_LONG_PLAY</tspan><tspan x="7" dy="13">+</tspan><tspan x="21">EXTENDED_PLAY</tspan><tspan x="7" dy="13">+</tspan><tspan x="21">LONG_PLAY</tspan><tspan x="7" dy="13">+</tspan><tspan x="21">NOT_FOUND</tspan><tspan x="7" dy="13">+</tspan><tspan x="21">SINGLE</tspan></text><line class="dv" y1="186" x2="393" y2="186"/><text class="m" y="186.7"><tspan x="7" dy="13">+</tspan><tspan x="21" class="u">getSpellings() : String</tspan><tspan x="7" dy="13">-</tspan><tspan x="21">spelling() : String</tspan><tspan x="7" dy="13">+</tspan><tspan x="21" class="u">translate(spelling :String) : KnownRecordType</tspan></text></g>
<g id="KnownSearchable" transform="translate(3918.8,4418.5)"><rect class="sh" x="4" y="4" width="394.6" height="249"/><rect class="bx" width="394.6" height="249"/><text class="t" x="197.3" y="15.8">KnownSearchable</text><line class="dv" y1="24.8" x2="394.6" y2="24.8"/><rect class="bd" x="2" y="110.5" width="390.6" height="12.5"/><text class="a" y="25.3"><tspan x="7" dy="13">-</tspan><tspan x="21" class="u">ARTIST_SPELLING:  String = "Artist" {readOnly}</tspan><tspan x="7" dy="13">-</tspan><tspan x="21" class="u">GENRE_SPELLING:  String = "Genre" {readOnly}</tspan><tspan x="7" dy="13">-</tspan><tspan x="21" class="u">NOT_FOUND_SPELLING_MESSAGE:  String = "If your search... {readOnly}</tspan><tspan x="7" dy="13">-</tspan><tspan x="21" class="u">PLAYABLE_SPELLING:  String = "Playable" {readOnly}</tspan><tspan x="7" dy="13">-</tspan><tspan x="21" class="u">TRACK_SPELLING:  String = "Track" {readOnly}</tspan><tspan x="7" dy="13">-</tspan><tspan x="21" class="u">USER_SPELLING:  String = "User" {readOnly}</tspan></text><text class="e" y="120"><tspan x="4" class="dl">«enum»</tspan><tspan x="7" dy="13">+</tspan><tspan x="21">ARTIST</tspan><tspan x="7" dy="13">+</tspan><tspan x="21">GENRE</tspan><tspan x="7" dy="13">+</tspan><tspan x="21">NOT_FOUND</tspan><tspan x="7" dy="13">+</tspan><tspan x="21">PLAYABLE</tspan><tspan x="7" dy="13">+</tspan><tspan x="21">TRACK</tspan><tspan x="7" dy="13">+</tspan><tspan x="21">USER</tspan></text><line class="dv" y1="210.7" x2="394.6" y2="210.7"/><text class="m" y="211.3"><tspan x="7" dy="13">+</tspan><tspan x="21">spelling() : String</tspan><tspan x="7" dy="13">+</tspan><tspan x="21" class="u">translate(searchable :String) : KnownSearchable</tspan></text></g>
</g>
</svg>
